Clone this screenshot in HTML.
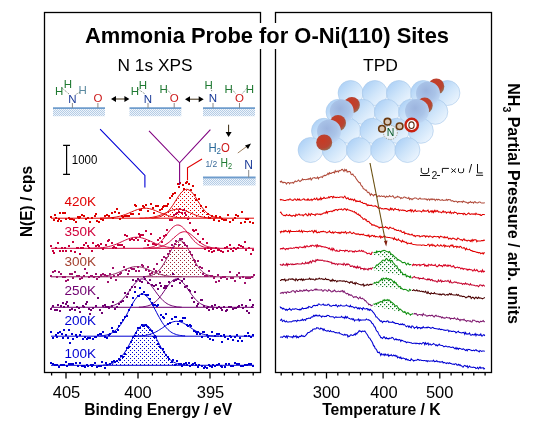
<!DOCTYPE html>
<html><head><meta charset="utf-8"><style>
html,body{margin:0;padding:0;background:#fff;}
svg{display:block;will-change:transform;}
</style></head><body>
<svg width="540" height="432" viewBox="0 0 540 432">
<rect width="540" height="432" fill="#fff"/>
<rect x="44.5" y="12.5" width="216" height="360" fill="none" stroke="#000" stroke-width="1.3"/>
<rect x="275.5" y="12.5" width="216" height="360" fill="none" stroke="#000" stroke-width="1.3"/>
<line x1="51.6" y1="372" x2="51.6" y2="375.5" stroke="#000" stroke-width="1.3"/>
<line x1="66.0" y1="372" x2="66.0" y2="378.5" stroke="#000" stroke-width="1.3"/>
<line x1="80.4" y1="372" x2="80.4" y2="375.5" stroke="#000" stroke-width="1.3"/>
<line x1="94.8" y1="372" x2="94.8" y2="375.5" stroke="#000" stroke-width="1.3"/>
<line x1="109.2" y1="372" x2="109.2" y2="375.5" stroke="#000" stroke-width="1.3"/>
<line x1="123.6" y1="372" x2="123.6" y2="375.5" stroke="#000" stroke-width="1.3"/>
<line x1="138.0" y1="372" x2="138.0" y2="378.5" stroke="#000" stroke-width="1.3"/>
<line x1="152.4" y1="372" x2="152.4" y2="375.5" stroke="#000" stroke-width="1.3"/>
<line x1="166.8" y1="372" x2="166.8" y2="375.5" stroke="#000" stroke-width="1.3"/>
<line x1="181.2" y1="372" x2="181.2" y2="375.5" stroke="#000" stroke-width="1.3"/>
<line x1="195.6" y1="372" x2="195.6" y2="375.5" stroke="#000" stroke-width="1.3"/>
<line x1="210.0" y1="372" x2="210.0" y2="378.5" stroke="#000" stroke-width="1.3"/>
<line x1="224.4" y1="372" x2="224.4" y2="375.5" stroke="#000" stroke-width="1.3"/>
<line x1="238.8" y1="372" x2="238.8" y2="375.5" stroke="#000" stroke-width="1.3"/>
<line x1="253.2" y1="372" x2="253.2" y2="375.5" stroke="#000" stroke-width="1.3"/>
<line x1="281.2" y1="372" x2="281.2" y2="375.5" stroke="#000" stroke-width="1.3"/>
<line x1="292.5" y1="372" x2="292.5" y2="375.5" stroke="#000" stroke-width="1.3"/>
<line x1="303.8" y1="372" x2="303.8" y2="375.5" stroke="#000" stroke-width="1.3"/>
<line x1="315.2" y1="372" x2="315.2" y2="375.5" stroke="#000" stroke-width="1.3"/>
<line x1="326.5" y1="372" x2="326.5" y2="378.5" stroke="#000" stroke-width="1.3"/>
<line x1="337.8" y1="372" x2="337.8" y2="375.5" stroke="#000" stroke-width="1.3"/>
<line x1="349.2" y1="372" x2="349.2" y2="375.5" stroke="#000" stroke-width="1.3"/>
<line x1="360.5" y1="372" x2="360.5" y2="375.5" stroke="#000" stroke-width="1.3"/>
<line x1="371.8" y1="372" x2="371.8" y2="375.5" stroke="#000" stroke-width="1.3"/>
<line x1="383.1" y1="372" x2="383.1" y2="378.5" stroke="#000" stroke-width="1.3"/>
<line x1="394.5" y1="372" x2="394.5" y2="375.5" stroke="#000" stroke-width="1.3"/>
<line x1="405.8" y1="372" x2="405.8" y2="375.5" stroke="#000" stroke-width="1.3"/>
<line x1="417.1" y1="372" x2="417.1" y2="375.5" stroke="#000" stroke-width="1.3"/>
<line x1="428.5" y1="372" x2="428.5" y2="375.5" stroke="#000" stroke-width="1.3"/>
<line x1="439.8" y1="372" x2="439.8" y2="378.5" stroke="#000" stroke-width="1.3"/>
<line x1="451.1" y1="372" x2="451.1" y2="375.5" stroke="#000" stroke-width="1.3"/>
<line x1="462.5" y1="372" x2="462.5" y2="375.5" stroke="#000" stroke-width="1.3"/>
<line x1="473.8" y1="372" x2="473.8" y2="375.5" stroke="#000" stroke-width="1.3"/>
<line x1="485.1" y1="372" x2="485.1" y2="375.5" stroke="#000" stroke-width="1.3"/>
<text x="66.5" y="397.5" font-family="Liberation Sans, sans-serif" font-size="16.5" text-anchor="middle" fill="#000">405</text>
<text x="138" y="397.5" font-family="Liberation Sans, sans-serif" font-size="16.5" text-anchor="middle" fill="#000">400</text>
<text x="210.5" y="397.5" font-family="Liberation Sans, sans-serif" font-size="16.5" text-anchor="middle" fill="#000">395</text>
<text x="326.5" y="397.5" font-family="Liberation Sans, sans-serif" font-size="16.5" text-anchor="middle" fill="#000">300</text>
<text x="383.9" y="397.5" font-family="Liberation Sans, sans-serif" font-size="16.5" text-anchor="middle" fill="#000">400</text>
<text x="439.7" y="397.5" font-family="Liberation Sans, sans-serif" font-size="16.5" text-anchor="middle" fill="#000">500</text>
<text x="84.2" y="414.6" font-family="Liberation Sans, sans-serif" font-size="15.6" font-weight="bold" textLength="148" lengthAdjust="spacingAndGlyphs">Binding Energy / eV</text>
<text x="322.2" y="415" font-family="Liberation Sans, sans-serif" font-size="15.6" font-weight="bold" textLength="118.5" lengthAdjust="spacingAndGlyphs">Temperature / K</text>
<text transform="translate(31.5,237) rotate(-90)" font-family="Liberation Sans, sans-serif" font-size="15.8" font-weight="bold" textLength="71" lengthAdjust="spacingAndGlyphs">N(E) / cps</text>
<text transform="translate(508,83.3) rotate(90)" font-family="Liberation Sans, sans-serif" font-size="16" font-weight="bold">NH<tspan font-size="10.5" dy="5">3</tspan><tspan dy="-5"> Partial Pressure / arb. units</tspan></text>
<rect x="60" y="23" width="420" height="26" fill="#fff"/>
<text x="85" y="42.6" font-family="Liberation Sans, sans-serif" font-size="22" font-weight="bold" textLength="364" lengthAdjust="spacingAndGlyphs">Ammonia Probe for O-Ni(110) Sites</text>
<text x="117.5" y="70.5" font-family="Liberation Sans, sans-serif" font-size="17" textLength="75" lengthAdjust="spacingAndGlyphs">N 1s XPS</text>
<text x="363" y="70.9" font-family="Liberation Sans, sans-serif" font-size="17" textLength="35" lengthAdjust="spacingAndGlyphs">TPD</text>
<pattern id="p0" width="4" height="4" patternUnits="userSpaceOnUse"><rect x="0" y="0" width="1" height="1" fill="#e10000"/><rect x="2" y="2" width="1" height="1" fill="#e10000"/></pattern>
<pattern id="p1" width="4" height="4" patternUnits="userSpaceOnUse"><rect x="0" y="0" width="1" height="1" fill="#d0003a"/><rect x="2" y="2" width="1" height="1" fill="#d0003a"/></pattern>
<pattern id="p2" width="4" height="4" patternUnits="userSpaceOnUse"><rect x="0" y="0" width="1" height="1" fill="#a02838"/><rect x="2" y="2" width="1" height="1" fill="#a02838"/></pattern>
<pattern id="p3" width="4" height="4" patternUnits="userSpaceOnUse"><rect x="0" y="0" width="1" height="1" fill="#700070"/><rect x="2" y="2" width="1" height="1" fill="#700070"/></pattern>
<pattern id="p4" width="4" height="4" patternUnits="userSpaceOnUse"><rect x="0" y="0" width="1" height="1" fill="#0000d2"/><rect x="2" y="2" width="1" height="1" fill="#0000d2"/></pattern>
<pattern id="p5" width="4" height="4" patternUnits="userSpaceOnUse"><rect x="0" y="0" width="1" height="1" fill="#0000d2"/><rect x="2" y="2" width="1" height="1" fill="#0000d2"/></pattern>
<text x="64.5" y="206" font-family="Liberation Sans, sans-serif" font-size="13.5" fill="#e10000" textLength="31.5" lengthAdjust="spacingAndGlyphs">420K</text>
<path d="M151.5,218.0 L152.7,218.0 L153.8,217.9 L155.0,217.7 L156.2,217.6 L157.4,217.4 L158.5,217.1 L159.7,216.8 L160.9,216.4 L162.1,215.8 L163.2,215.2 L164.4,214.5 L165.6,213.6 L166.8,212.6 L167.9,211.5 L169.1,210.2 L170.3,208.7 L171.4,207.2 L172.6,205.5 L173.8,203.7 L175.0,201.8 L176.1,200.0 L177.3,198.1 L178.5,196.3 L179.7,194.7 L180.8,193.1 L182.0,191.8 L183.2,190.7 L184.4,190.0 L185.5,189.5 L186.7,189.3 L187.9,189.5 L189.0,190.0 L190.2,190.7 L191.4,191.8 L192.6,193.1 L193.7,194.7 L194.9,196.3 L196.1,198.1 L197.3,200.0 L198.4,201.8 L199.6,203.7 L200.8,205.5 L202.0,207.2 L203.1,208.7 L204.3,210.2 L205.5,211.5 L206.6,212.6 L207.8,213.6 L209.0,214.5 L210.2,215.2 L211.3,215.8 L212.5,216.4 L213.7,216.8 L214.9,217.1 L216.0,217.4 L217.2,217.6 L218.4,217.7 L219.6,217.9 L220.7,218.0 L221.9,218.0 Z" fill="url(#p0)" stroke="none"/>
<path d="M151.5,218.0 L152.7,218.0 L153.8,217.9 L155.0,217.7 L156.2,217.6 L157.4,217.4 L158.5,217.1 L159.7,216.8 L160.9,216.4 L162.1,215.8 L163.2,215.2 L164.4,214.5 L165.6,213.6 L166.8,212.6 L167.9,211.5 L169.1,210.2 L170.3,208.7 L171.4,207.2 L172.6,205.5 L173.8,203.7 L175.0,201.8 L176.1,200.0 L177.3,198.1 L178.5,196.3 L179.7,194.7 L180.8,193.1 L182.0,191.8 L183.2,190.7 L184.4,190.0 L185.5,189.5 L186.7,189.3 L187.9,189.5 L189.0,190.0 L190.2,190.7 L191.4,191.8 L192.6,193.1 L193.7,194.7 L194.9,196.3 L196.1,198.1 L197.3,200.0 L198.4,201.8 L199.6,203.7 L200.8,205.5 L202.0,207.2 L203.1,208.7 L204.3,210.2 L205.5,211.5 L206.6,212.6 L207.8,213.6 L209.0,214.5 L210.2,215.2 L211.3,215.8 L212.5,216.4 L213.7,216.8 L214.9,217.1 L216.0,217.4 L217.2,217.6 L218.4,217.7 L219.6,217.9 L220.7,218.0 L221.9,218.0" fill="none" stroke="#e10000" stroke-width="1"/>
<path d="M100.2,218.1 L101.7,218.1 L103.2,218.1 L104.7,218.0 L106.2,218.0 L107.7,217.9 L109.2,217.8 L110.7,217.7 L112.1,217.6 L113.6,217.4 L115.1,217.2 L116.6,216.9 L118.1,216.6 L119.6,216.3 L121.1,215.9 L122.6,215.4 L124.1,214.9 L125.6,214.4 L127.1,213.8 L128.6,213.2 L130.1,212.5 L131.6,211.9 L133.1,211.3 L134.5,210.6 L136.0,210.1 L137.5,209.5 L139.0,209.1 L140.5,208.7 L142.0,208.4 L143.5,208.3 L145.0,208.2 L146.5,208.3 L148.0,208.4 L149.5,208.7 L151.0,209.1 L152.5,209.5 L154.0,210.1 L155.5,210.6 L156.9,211.3 L158.4,211.9 L159.9,212.5 L161.4,213.2 L162.9,213.8 L164.4,214.4 L165.9,214.9 L167.4,215.4 L168.9,215.9 L170.4,216.3 L171.9,216.6 L173.4,216.9 L174.9,217.2 L176.4,217.4 L177.9,217.6 L179.3,217.7 L180.8,217.8 L182.3,217.9 L183.8,218.0 L185.3,218.0 L186.8,218.1 L188.3,218.1 L189.8,218.1" fill="none" stroke="#e10000" stroke-width="1"/>
<path d="M139.6,218.1 L140.9,218.1 L142.2,218.1 L143.4,218.1 L144.7,218.0 L146.0,217.9 L147.3,217.9 L148.6,217.8 L149.8,217.6 L151.1,217.5 L152.4,217.3 L153.7,217.0 L155.0,216.8 L156.2,216.5 L157.5,216.1 L158.8,215.7 L160.1,215.2 L161.4,214.8 L162.6,214.2 L163.9,213.7 L165.2,213.1 L166.5,212.5 L167.8,211.9 L169.0,211.4 L170.3,210.9 L171.6,210.4 L172.9,210.0 L174.2,209.6 L175.4,209.4 L176.7,209.3 L178.0,209.2 L179.3,209.3 L180.6,209.4 L181.8,209.6 L183.1,210.0 L184.4,210.4 L185.7,210.9 L187.0,211.4 L188.2,211.9 L189.5,212.5 L190.8,213.1 L192.1,213.7 L193.4,214.2 L194.6,214.8 L195.9,215.2 L197.2,215.7 L198.5,216.1 L199.8,216.5 L201.0,216.8 L202.3,217.0 L203.6,217.3 L204.9,217.5 L206.2,217.6 L207.4,217.8 L208.7,217.9 L210.0,217.9 L211.3,218.0 L212.6,218.1 L213.8,218.1 L215.1,218.1 L216.4,218.1" fill="none" stroke="#e10000" stroke-width="1"/>
<line x1="51" y1="218.2" x2="254" y2="218.2" stroke="#e10000" stroke-width="1"/>
<rect x="50" y="216" width="2" height="2" fill="#dc0000"/>
<rect x="53" y="219" width="2" height="2" fill="#dc0000"/>
<rect x="54" y="214" width="2" height="2" fill="#dc0000"/>
<rect x="55" y="217" width="2" height="2" fill="#dc0000"/>
<rect x="57" y="220" width="2" height="2" fill="#dc0000"/>
<rect x="58" y="218" width="2" height="2" fill="#dc0000"/>
<rect x="59" y="212" width="2" height="2" fill="#dc0000"/>
<rect x="60" y="220" width="2" height="2" fill="#dc0000"/>
<rect x="62" y="212" width="2" height="2" fill="#dc0000"/>
<rect x="64" y="212" width="2" height="2" fill="#dc0000"/>
<rect x="65" y="218" width="2" height="2" fill="#dc0000"/>
<rect x="68" y="217" width="2" height="2" fill="#dc0000"/>
<rect x="69" y="218" width="2" height="2" fill="#dc0000"/>
<rect x="71" y="218" width="2" height="2" fill="#dc0000"/>
<rect x="73" y="219" width="2" height="2" fill="#dc0000"/>
<rect x="75" y="221" width="2" height="2" fill="#dc0000"/>
<rect x="77" y="216" width="2" height="2" fill="#dc0000"/>
<rect x="78" y="217" width="2" height="2" fill="#dc0000"/>
<rect x="79" y="216" width="2" height="2" fill="#dc0000"/>
<rect x="81" y="214" width="2" height="2" fill="#dc0000"/>
<rect x="83" y="215" width="2" height="2" fill="#dc0000"/>
<rect x="85" y="218" width="2" height="2" fill="#dc0000"/>
<rect x="87" y="217" width="2" height="2" fill="#dc0000"/>
<rect x="89" y="221" width="2" height="2" fill="#dc0000"/>
<rect x="91" y="217" width="2" height="2" fill="#dc0000"/>
<rect x="94" y="215" width="2" height="2" fill="#dc0000"/>
<rect x="95" y="213" width="2" height="2" fill="#dc0000"/>
<rect x="96" y="220" width="2" height="2" fill="#dc0000"/>
<rect x="98" y="221" width="2" height="2" fill="#dc0000"/>
<rect x="100" y="218" width="2" height="2" fill="#dc0000"/>
<rect x="102" y="219" width="2" height="2" fill="#dc0000"/>
<rect x="104" y="215" width="2" height="2" fill="#dc0000"/>
<rect x="106" y="214" width="2" height="2" fill="#dc0000"/>
<rect x="108" y="215" width="2" height="2" fill="#dc0000"/>
<rect x="111" y="212" width="2" height="2" fill="#dc0000"/>
<rect x="112" y="217" width="2" height="2" fill="#dc0000"/>
<rect x="114" y="211" width="2" height="2" fill="#dc0000"/>
<rect x="116" y="208" width="2" height="2" fill="#dc0000"/>
<rect x="118" y="212" width="2" height="2" fill="#dc0000"/>
<rect x="119" y="218" width="2" height="2" fill="#dc0000"/>
<rect x="121" y="215" width="2" height="2" fill="#dc0000"/>
<rect x="122" y="216" width="2" height="2" fill="#dc0000"/>
<rect x="124" y="215" width="2" height="2" fill="#dc0000"/>
<rect x="126" y="215" width="2" height="2" fill="#dc0000"/>
<rect x="128" y="215" width="2" height="2" fill="#dc0000"/>
<rect x="130" y="213" width="2" height="2" fill="#dc0000"/>
<rect x="132" y="213" width="2" height="2" fill="#dc0000"/>
<rect x="134" y="204" width="2" height="2" fill="#dc0000"/>
<rect x="135" y="205" width="2" height="2" fill="#dc0000"/>
<rect x="138" y="213" width="2" height="2" fill="#dc0000"/>
<rect x="139" y="209" width="2" height="2" fill="#dc0000"/>
<rect x="140" y="209" width="2" height="2" fill="#dc0000"/>
<rect x="142" y="205" width="2" height="2" fill="#dc0000"/>
<rect x="143" y="206" width="2" height="2" fill="#dc0000"/>
<rect x="145" y="204" width="2" height="2" fill="#dc0000"/>
<rect x="147" y="210" width="2" height="2" fill="#dc0000"/>
<rect x="150" y="203" width="2" height="2" fill="#dc0000"/>
<rect x="152" y="207" width="2" height="2" fill="#dc0000"/>
<rect x="153" y="212" width="2" height="2" fill="#dc0000"/>
<rect x="155" y="205" width="2" height="2" fill="#dc0000"/>
<rect x="157" y="205" width="2" height="2" fill="#dc0000"/>
<rect x="159" y="209" width="2" height="2" fill="#dc0000"/>
<rect x="161" y="208" width="2" height="2" fill="#dc0000"/>
<rect x="162" y="206" width="2" height="2" fill="#dc0000"/>
<rect x="163" y="205" width="2" height="2" fill="#dc0000"/>
<rect x="164" y="205" width="2" height="2" fill="#dc0000"/>
<rect x="166" y="205" width="2" height="2" fill="#dc0000"/>
<rect x="167" y="203" width="2" height="2" fill="#dc0000"/>
<rect x="169" y="197" width="2" height="2" fill="#dc0000"/>
<rect x="171" y="195" width="2" height="2" fill="#dc0000"/>
<rect x="172" y="193" width="2" height="2" fill="#dc0000"/>
<rect x="174" y="192" width="2" height="2" fill="#dc0000"/>
<rect x="177" y="183" width="2" height="2" fill="#dc0000"/>
<rect x="178" y="186" width="2" height="2" fill="#dc0000"/>
<rect x="179" y="182" width="2" height="2" fill="#dc0000"/>
<rect x="182" y="184" width="2" height="2" fill="#dc0000"/>
<rect x="183" y="188" width="2" height="2" fill="#dc0000"/>
<rect x="185" y="182" width="2" height="2" fill="#dc0000"/>
<rect x="186" y="181" width="2" height="2" fill="#dc0000"/>
<rect x="188" y="183" width="2" height="2" fill="#dc0000"/>
<rect x="190" y="189" width="2" height="2" fill="#dc0000"/>
<rect x="192" y="185" width="2" height="2" fill="#dc0000"/>
<rect x="194" y="194" width="2" height="2" fill="#dc0000"/>
<rect x="195" y="199" width="2" height="2" fill="#dc0000"/>
<rect x="198" y="198" width="2" height="2" fill="#dc0000"/>
<rect x="200" y="205" width="2" height="2" fill="#dc0000"/>
<rect x="202" y="210" width="2" height="2" fill="#dc0000"/>
<rect x="205" y="206" width="2" height="2" fill="#dc0000"/>
<rect x="207" y="213" width="2" height="2" fill="#dc0000"/>
<rect x="208" y="217" width="2" height="2" fill="#dc0000"/>
<rect x="209" y="217" width="2" height="2" fill="#dc0000"/>
<rect x="211" y="215" width="2" height="2" fill="#dc0000"/>
<rect x="213" y="219" width="2" height="2" fill="#dc0000"/>
<rect x="215" y="215" width="2" height="2" fill="#dc0000"/>
<rect x="218" y="220" width="2" height="2" fill="#dc0000"/>
<rect x="219" y="216" width="2" height="2" fill="#dc0000"/>
<rect x="221" y="218" width="2" height="2" fill="#dc0000"/>
<rect x="223" y="219" width="2" height="2" fill="#dc0000"/>
<rect x="225" y="219" width="2" height="2" fill="#dc0000"/>
<rect x="227" y="214" width="2" height="2" fill="#dc0000"/>
<rect x="229" y="221" width="2" height="2" fill="#dc0000"/>
<rect x="232" y="219" width="2" height="2" fill="#dc0000"/>
<rect x="234" y="217" width="2" height="2" fill="#dc0000"/>
<rect x="235" y="214" width="2" height="2" fill="#dc0000"/>
<rect x="237" y="215" width="2" height="2" fill="#dc0000"/>
<rect x="240" y="222" width="2" height="2" fill="#dc0000"/>
<rect x="241" y="211" width="2" height="2" fill="#dc0000"/>
<rect x="244" y="221" width="2" height="2" fill="#dc0000"/>
<rect x="245" y="218" width="2" height="2" fill="#dc0000"/>
<rect x="247" y="218" width="2" height="2" fill="#dc0000"/>
<rect x="249" y="221" width="2" height="2" fill="#dc0000"/>
<rect x="252" y="222" width="2" height="2" fill="#dc0000"/>
<text x="64.5" y="235.8" font-family="Liberation Sans, sans-serif" font-size="13.5" fill="#d0003a" textLength="31.5" lengthAdjust="spacingAndGlyphs">350K</text>
<path d="M90.0,248.2 L91.5,248.2 L93.1,248.2 L94.7,248.1 L96.2,248.1 L97.8,248.0 L99.3,247.9 L100.9,247.8 L102.4,247.6 L104.0,247.4 L105.6,247.2 L107.1,246.9 L108.7,246.5 L110.2,246.2 L111.8,245.7 L113.3,245.2 L114.9,244.7 L116.5,244.1 L118.0,243.4 L119.6,242.7 L121.1,242.0 L122.7,241.3 L124.2,240.6 L125.8,239.9 L127.4,239.3 L128.9,238.7 L130.5,238.2 L132.0,237.8 L133.6,237.4 L135.1,237.3 L136.7,237.2 L138.3,237.3 L139.8,237.4 L141.4,237.8 L142.9,238.2 L144.5,238.7 L146.0,239.3 L147.6,239.9 L149.2,240.6 L150.7,241.3 L152.3,242.0 L153.8,242.7 L155.4,243.4 L156.9,244.1 L158.5,244.7 L160.1,245.2 L161.6,245.7 L163.2,246.2 L164.7,246.5 L166.3,246.9 L167.8,247.2 L169.4,247.4 L171.0,247.6 L172.5,247.8 L174.1,247.9 L175.6,248.0 L177.2,248.1 L178.7,248.1 L180.3,248.2 L181.9,248.2 L183.4,248.2" fill="none" stroke="#d0003a" stroke-width="1"/>
<path d="M143.2,248.2 L144.4,248.1 L145.5,248.0 L146.7,247.9 L147.8,247.8 L149.0,247.6 L150.2,247.4 L151.3,247.2 L152.5,246.8 L153.6,246.4 L154.8,245.9 L155.9,245.3 L157.1,244.6 L158.2,243.8 L159.4,242.9 L160.5,241.8 L161.7,240.7 L162.8,239.4 L164.0,238.0 L165.1,236.6 L166.3,235.1 L167.4,233.6 L168.6,232.1 L169.7,230.7 L170.9,229.3 L172.0,228.1 L173.2,227.0 L174.3,226.2 L175.5,225.5 L176.6,225.1 L177.8,225.0 L179.0,225.1 L180.1,225.5 L181.3,226.2 L182.4,227.0 L183.6,228.1 L184.7,229.3 L185.9,230.7 L187.0,232.1 L188.2,233.6 L189.3,235.1 L190.5,236.6 L191.6,238.0 L192.8,239.4 L193.9,240.7 L195.1,241.8 L196.2,242.9 L197.4,243.8 L198.5,244.6 L199.7,245.3 L200.8,245.9 L202.0,246.4 L203.1,246.8 L204.3,247.2 L205.4,247.4 L206.6,247.6 L207.8,247.8 L208.9,247.9 L210.1,248.0 L211.2,248.1 L212.4,248.2" fill="none" stroke="#d0003a" stroke-width="1"/>
<path d="M149.5,248.2 L150.7,248.2 L151.8,248.1 L153.0,248.0 L154.2,247.9 L155.3,247.8 L156.5,247.7 L157.7,247.5 L158.8,247.2 L160.0,246.9 L161.1,246.6 L162.3,246.2 L163.5,245.7 L164.6,245.1 L165.8,244.4 L167.0,243.7 L168.1,242.9 L169.3,242.0 L170.4,241.0 L171.6,240.0 L172.8,238.9 L173.9,237.8 L175.1,236.8 L176.3,235.7 L177.4,234.8 L178.6,233.9 L179.7,233.1 L180.9,232.5 L182.1,232.1 L183.2,231.8 L184.4,231.7 L185.6,231.8 L186.7,232.1 L187.9,232.5 L189.1,233.1 L190.2,233.9 L191.4,234.8 L192.5,235.7 L193.7,236.8 L194.9,237.8 L196.0,238.9 L197.2,240.0 L198.4,241.0 L199.5,242.0 L200.7,242.9 L201.8,243.7 L203.0,244.4 L204.2,245.1 L205.3,245.7 L206.5,246.2 L207.7,246.6 L208.8,246.9 L210.0,247.2 L211.1,247.5 L212.3,247.7 L213.5,247.8 L214.6,247.9 L215.8,248.0 L217.0,248.1 L218.1,248.2 L219.3,248.2" fill="none" stroke="#d0003a" stroke-width="1"/>
<line x1="51" y1="248.3" x2="254" y2="248.3" stroke="#d0003a" stroke-width="1"/>
<rect x="50" y="245" width="2" height="2" fill="#c8003c"/>
<rect x="52" y="250" width="2" height="2" fill="#c8003c"/>
<rect x="53" y="252" width="2" height="2" fill="#c8003c"/>
<rect x="55" y="247" width="2" height="2" fill="#c8003c"/>
<rect x="57" y="242" width="2" height="2" fill="#c8003c"/>
<rect x="59" y="250" width="2" height="2" fill="#c8003c"/>
<rect x="61" y="247" width="2" height="2" fill="#c8003c"/>
<rect x="62" y="250" width="2" height="2" fill="#c8003c"/>
<rect x="64" y="247" width="2" height="2" fill="#c8003c"/>
<rect x="65" y="250" width="2" height="2" fill="#c8003c"/>
<rect x="68" y="245" width="2" height="2" fill="#c8003c"/>
<rect x="70" y="250" width="2" height="2" fill="#c8003c"/>
<rect x="72" y="241" width="2" height="2" fill="#c8003c"/>
<rect x="74" y="251" width="2" height="2" fill="#c8003c"/>
<rect x="76" y="247" width="2" height="2" fill="#c8003c"/>
<rect x="77" y="247" width="2" height="2" fill="#c8003c"/>
<rect x="79" y="253" width="2" height="2" fill="#c8003c"/>
<rect x="80" y="247" width="2" height="2" fill="#c8003c"/>
<rect x="82" y="247" width="2" height="2" fill="#c8003c"/>
<rect x="83" y="244" width="2" height="2" fill="#c8003c"/>
<rect x="85" y="242" width="2" height="2" fill="#c8003c"/>
<rect x="87" y="245" width="2" height="2" fill="#c8003c"/>
<rect x="88" y="247" width="2" height="2" fill="#c8003c"/>
<rect x="91" y="250" width="2" height="2" fill="#c8003c"/>
<rect x="92" y="242" width="2" height="2" fill="#c8003c"/>
<rect x="95" y="245" width="2" height="2" fill="#c8003c"/>
<rect x="97" y="244" width="2" height="2" fill="#c8003c"/>
<rect x="98" y="245" width="2" height="2" fill="#c8003c"/>
<rect x="100" y="243" width="2" height="2" fill="#c8003c"/>
<rect x="102" y="248" width="2" height="2" fill="#c8003c"/>
<rect x="105" y="244" width="2" height="2" fill="#c8003c"/>
<rect x="107" y="240" width="2" height="2" fill="#c8003c"/>
<rect x="108" y="239" width="2" height="2" fill="#c8003c"/>
<rect x="111" y="242" width="2" height="2" fill="#c8003c"/>
<rect x="112" y="247" width="2" height="2" fill="#c8003c"/>
<rect x="113" y="246" width="2" height="2" fill="#c8003c"/>
<rect x="115" y="247" width="2" height="2" fill="#c8003c"/>
<rect x="117" y="244" width="2" height="2" fill="#c8003c"/>
<rect x="119" y="244" width="2" height="2" fill="#c8003c"/>
<rect x="121" y="244" width="2" height="2" fill="#c8003c"/>
<rect x="123" y="246" width="2" height="2" fill="#c8003c"/>
<rect x="124" y="234" width="2" height="2" fill="#c8003c"/>
<rect x="126" y="235" width="2" height="2" fill="#c8003c"/>
<rect x="129" y="239" width="2" height="2" fill="#c8003c"/>
<rect x="131" y="238" width="2" height="2" fill="#c8003c"/>
<rect x="133" y="239" width="2" height="2" fill="#c8003c"/>
<rect x="135" y="237" width="2" height="2" fill="#c8003c"/>
<rect x="137" y="239" width="2" height="2" fill="#c8003c"/>
<rect x="138" y="233" width="2" height="2" fill="#c8003c"/>
<rect x="139" y="235" width="2" height="2" fill="#c8003c"/>
<rect x="140" y="234" width="2" height="2" fill="#c8003c"/>
<rect x="142" y="234" width="2" height="2" fill="#c8003c"/>
<rect x="144" y="240" width="2" height="2" fill="#c8003c"/>
<rect x="145" y="230" width="2" height="2" fill="#c8003c"/>
<rect x="147" y="244" width="2" height="2" fill="#c8003c"/>
<rect x="148" y="240" width="2" height="2" fill="#c8003c"/>
<rect x="150" y="233" width="2" height="2" fill="#c8003c"/>
<rect x="152" y="243" width="2" height="2" fill="#c8003c"/>
<rect x="153" y="243" width="2" height="2" fill="#c8003c"/>
<rect x="155" y="244" width="2" height="2" fill="#c8003c"/>
<rect x="157" y="239" width="2" height="2" fill="#c8003c"/>
<rect x="159" y="237" width="2" height="2" fill="#c8003c"/>
<rect x="161" y="241" width="2" height="2" fill="#c8003c"/>
<rect x="163" y="235" width="2" height="2" fill="#c8003c"/>
<rect x="165" y="234" width="2" height="2" fill="#c8003c"/>
<rect x="166" y="229" width="2" height="2" fill="#c8003c"/>
<rect x="169" y="219" width="2" height="2" fill="#c8003c"/>
<rect x="171" y="219" width="2" height="2" fill="#c8003c"/>
<rect x="173" y="214" width="2" height="2" fill="#c8003c"/>
<rect x="175" y="213" width="2" height="2" fill="#c8003c"/>
<rect x="176" y="212" width="2" height="2" fill="#c8003c"/>
<rect x="178" y="211" width="2" height="2" fill="#c8003c"/>
<rect x="179" y="208" width="2" height="2" fill="#c8003c"/>
<rect x="181" y="212" width="2" height="2" fill="#c8003c"/>
<rect x="183" y="209" width="2" height="2" fill="#c8003c"/>
<rect x="184" y="212" width="2" height="2" fill="#c8003c"/>
<rect x="185" y="214" width="2" height="2" fill="#c8003c"/>
<rect x="187" y="218" width="2" height="2" fill="#c8003c"/>
<rect x="189" y="222" width="2" height="2" fill="#c8003c"/>
<rect x="192" y="229" width="2" height="2" fill="#c8003c"/>
<rect x="193" y="230" width="2" height="2" fill="#c8003c"/>
<rect x="195" y="229" width="2" height="2" fill="#c8003c"/>
<rect x="197" y="233" width="2" height="2" fill="#c8003c"/>
<rect x="199" y="241" width="2" height="2" fill="#c8003c"/>
<rect x="202" y="238" width="2" height="2" fill="#c8003c"/>
<rect x="204" y="248" width="2" height="2" fill="#c8003c"/>
<rect x="206" y="242" width="2" height="2" fill="#c8003c"/>
<rect x="207" y="247" width="2" height="2" fill="#c8003c"/>
<rect x="208" y="250" width="2" height="2" fill="#c8003c"/>
<rect x="210" y="248" width="2" height="2" fill="#c8003c"/>
<rect x="211" y="251" width="2" height="2" fill="#c8003c"/>
<rect x="213" y="250" width="2" height="2" fill="#c8003c"/>
<rect x="215" y="247" width="2" height="2" fill="#c8003c"/>
<rect x="217" y="249" width="2" height="2" fill="#c8003c"/>
<rect x="218" y="249" width="2" height="2" fill="#c8003c"/>
<rect x="220" y="250" width="2" height="2" fill="#c8003c"/>
<rect x="222" y="251" width="2" height="2" fill="#c8003c"/>
<rect x="224" y="247" width="2" height="2" fill="#c8003c"/>
<rect x="226" y="246" width="2" height="2" fill="#c8003c"/>
<rect x="227" y="250" width="2" height="2" fill="#c8003c"/>
<rect x="229" y="244" width="2" height="2" fill="#c8003c"/>
<rect x="230" y="248" width="2" height="2" fill="#c8003c"/>
<rect x="232" y="250" width="2" height="2" fill="#c8003c"/>
<rect x="233" y="247" width="2" height="2" fill="#c8003c"/>
<rect x="235" y="248" width="2" height="2" fill="#c8003c"/>
<rect x="237" y="247" width="2" height="2" fill="#c8003c"/>
<rect x="238" y="244" width="2" height="2" fill="#c8003c"/>
<rect x="240" y="245" width="2" height="2" fill="#c8003c"/>
<rect x="242" y="246" width="2" height="2" fill="#c8003c"/>
<rect x="244" y="241" width="2" height="2" fill="#c8003c"/>
<rect x="245" y="249" width="2" height="2" fill="#c8003c"/>
<rect x="248" y="247" width="2" height="2" fill="#c8003c"/>
<rect x="250" y="253" width="2" height="2" fill="#c8003c"/>
<rect x="252" y="249" width="2" height="2" fill="#c8003c"/>
<text x="64.5" y="265.6" font-family="Liberation Sans, sans-serif" font-size="13.5" fill="#a44030" textLength="31.5" lengthAdjust="spacingAndGlyphs">300K</text>
<path d="M91.9,276.7 L93.4,276.7 L94.9,276.7 L96.4,276.6 L97.9,276.6 L99.4,276.5 L100.9,276.4 L102.4,276.3 L103.8,276.2 L105.3,276.0 L106.8,275.8 L108.3,275.5 L109.8,275.2 L111.3,274.8 L112.8,274.4 L114.3,274.0 L115.8,273.5 L117.3,272.9 L118.8,272.3 L120.3,271.7 L121.8,271.0 L123.3,270.4 L124.8,269.7 L126.2,269.1 L127.7,268.5 L129.2,268.0 L130.7,267.5 L132.2,267.1 L133.7,266.8 L135.2,266.7 L136.7,266.6 L138.2,266.7 L139.7,266.8 L141.2,267.1 L142.7,267.5 L144.2,268.0 L145.7,268.5 L147.2,269.1 L148.6,269.7 L150.1,270.4 L151.6,271.0 L153.1,271.7 L154.6,272.3 L156.1,272.9 L157.6,273.5 L159.1,274.0 L160.6,274.4 L162.1,274.8 L163.6,275.2 L165.1,275.5 L166.6,275.8 L168.1,276.0 L169.6,276.2 L171.0,276.3 L172.5,276.4 L174.0,276.5 L175.5,276.6 L177.0,276.6 L178.5,276.7 L180.0,276.7 L181.5,276.7" fill="none" stroke="#8a1a5a" stroke-width="1"/>
<path d="M143.8,276.6 L145.0,276.5 L146.3,276.4 L147.5,276.2 L148.7,276.0 L149.9,275.8 L151.1,275.4 L152.3,275.0 L153.5,274.5 L154.7,273.9 L155.9,273.1 L157.1,272.2 L158.3,271.1 L159.5,269.8 L160.7,268.4 L161.9,266.7 L163.1,264.9 L164.3,263.0 L165.5,260.8 L166.7,258.6 L167.9,256.3 L169.2,254.0 L170.4,251.6 L171.6,249.4 L172.8,247.3 L174.0,245.4 L175.2,243.7 L176.4,242.4 L177.6,241.4 L178.8,240.8 L180.0,240.6 L181.2,240.8 L182.4,241.4 L183.6,242.4 L184.8,243.7 L186.0,245.4 L187.2,247.3 L188.4,249.4 L189.6,251.6 L190.8,254.0 L192.1,256.3 L193.3,258.6 L194.5,260.8 L195.7,263.0 L196.9,264.9 L198.1,266.7 L199.3,268.4 L200.5,269.8 L201.7,271.1 L202.9,272.2 L204.1,273.1 L205.3,273.9 L206.5,274.5 L207.7,275.0 L208.9,275.4 L210.1,275.8 L211.3,276.0 L212.5,276.2 L213.7,276.4 L215.0,276.5 L216.2,276.6 Z" fill="url(#p2)" stroke="none"/>
<path d="M143.8,276.6 L145.0,276.5 L146.3,276.4 L147.5,276.2 L148.7,276.0 L149.9,275.8 L151.1,275.4 L152.3,275.0 L153.5,274.5 L154.7,273.9 L155.9,273.1 L157.1,272.2 L158.3,271.1 L159.5,269.8 L160.7,268.4 L161.9,266.7 L163.1,264.9 L164.3,263.0 L165.5,260.8 L166.7,258.6 L167.9,256.3 L169.2,254.0 L170.4,251.6 L171.6,249.4 L172.8,247.3 L174.0,245.4 L175.2,243.7 L176.4,242.4 L177.6,241.4 L178.8,240.8 L180.0,240.6 L181.2,240.8 L182.4,241.4 L183.6,242.4 L184.8,243.7 L186.0,245.4 L187.2,247.3 L188.4,249.4 L189.6,251.6 L190.8,254.0 L192.1,256.3 L193.3,258.6 L194.5,260.8 L195.7,263.0 L196.9,264.9 L198.1,266.7 L199.3,268.4 L200.5,269.8 L201.7,271.1 L202.9,272.2 L204.1,273.1 L205.3,273.9 L206.5,274.5 L207.7,275.0 L208.9,275.4 L210.1,275.8 L211.3,276.0 L212.5,276.2 L213.7,276.4 L215.0,276.5 L216.2,276.6" fill="none" stroke="#8a1a5a" stroke-width="1"/>
<line x1="51" y1="276.8" x2="254" y2="276.8" stroke="#8a1a5a" stroke-width="1"/>
<rect x="50" y="275" width="2" height="2" fill="#a0106a"/>
<rect x="52" y="271" width="2" height="2" fill="#a0106a"/>
<rect x="54" y="270" width="2" height="2" fill="#a0106a"/>
<rect x="56" y="276" width="2" height="2" fill="#a0106a"/>
<rect x="58" y="271" width="2" height="2" fill="#a0106a"/>
<rect x="60" y="273" width="2" height="2" fill="#a0106a"/>
<rect x="62" y="276" width="2" height="2" fill="#a0106a"/>
<rect x="64" y="276" width="2" height="2" fill="#a0106a"/>
<rect x="65" y="280" width="2" height="2" fill="#a0106a"/>
<rect x="67" y="279" width="2" height="2" fill="#a0106a"/>
<rect x="69" y="273" width="2" height="2" fill="#a0106a"/>
<rect x="71" y="273" width="2" height="2" fill="#a0106a"/>
<rect x="72" y="277" width="2" height="2" fill="#a0106a"/>
<rect x="74" y="271" width="2" height="2" fill="#a0106a"/>
<rect x="76" y="275" width="2" height="2" fill="#a0106a"/>
<rect x="78" y="275" width="2" height="2" fill="#a0106a"/>
<rect x="79" y="278" width="2" height="2" fill="#a0106a"/>
<rect x="81" y="277" width="2" height="2" fill="#a0106a"/>
<rect x="83" y="275" width="2" height="2" fill="#a0106a"/>
<rect x="84" y="268" width="2" height="2" fill="#a0106a"/>
<rect x="86" y="272" width="2" height="2" fill="#a0106a"/>
<rect x="88" y="276" width="2" height="2" fill="#a0106a"/>
<rect x="90" y="275" width="2" height="2" fill="#a0106a"/>
<rect x="91" y="275" width="2" height="2" fill="#a0106a"/>
<rect x="93" y="276" width="2" height="2" fill="#a0106a"/>
<rect x="95" y="273" width="2" height="2" fill="#a0106a"/>
<rect x="96" y="278" width="2" height="2" fill="#a0106a"/>
<rect x="98" y="276" width="2" height="2" fill="#a0106a"/>
<rect x="100" y="274" width="2" height="2" fill="#a0106a"/>
<rect x="102" y="273" width="2" height="2" fill="#a0106a"/>
<rect x="104" y="274" width="2" height="2" fill="#a0106a"/>
<rect x="106" y="275" width="2" height="2" fill="#a0106a"/>
<rect x="107" y="281" width="2" height="2" fill="#a0106a"/>
<rect x="109" y="273" width="2" height="2" fill="#a0106a"/>
<rect x="110" y="277" width="2" height="2" fill="#a0106a"/>
<rect x="112" y="267" width="2" height="2" fill="#a0106a"/>
<rect x="113" y="275" width="2" height="2" fill="#a0106a"/>
<rect x="115" y="279" width="2" height="2" fill="#a0106a"/>
<rect x="117" y="274" width="2" height="2" fill="#a0106a"/>
<rect x="119" y="273" width="2" height="2" fill="#a0106a"/>
<rect x="120" y="272" width="2" height="2" fill="#a0106a"/>
<rect x="123" y="266" width="2" height="2" fill="#a0106a"/>
<rect x="125" y="269" width="2" height="2" fill="#a0106a"/>
<rect x="127" y="273" width="2" height="2" fill="#a0106a"/>
<rect x="128" y="270" width="2" height="2" fill="#a0106a"/>
<rect x="130" y="267" width="2" height="2" fill="#a0106a"/>
<rect x="131" y="268" width="2" height="2" fill="#a0106a"/>
<rect x="133" y="268" width="2" height="2" fill="#a0106a"/>
<rect x="135" y="270" width="2" height="2" fill="#a0106a"/>
<rect x="137" y="266" width="2" height="2" fill="#a0106a"/>
<rect x="138" y="270" width="2" height="2" fill="#a0106a"/>
<rect x="141" y="264" width="2" height="2" fill="#a0106a"/>
<rect x="142" y="265" width="2" height="2" fill="#a0106a"/>
<rect x="145" y="269" width="2" height="2" fill="#a0106a"/>
<rect x="147" y="266" width="2" height="2" fill="#a0106a"/>
<rect x="148" y="270" width="2" height="2" fill="#a0106a"/>
<rect x="149" y="273" width="2" height="2" fill="#a0106a"/>
<rect x="151" y="272" width="2" height="2" fill="#a0106a"/>
<rect x="153" y="268" width="2" height="2" fill="#a0106a"/>
<rect x="155" y="270" width="2" height="2" fill="#a0106a"/>
<rect x="156" y="263" width="2" height="2" fill="#a0106a"/>
<rect x="159" y="271" width="2" height="2" fill="#a0106a"/>
<rect x="161" y="259" width="2" height="2" fill="#a0106a"/>
<rect x="163" y="256" width="2" height="2" fill="#a0106a"/>
<rect x="165" y="257" width="2" height="2" fill="#a0106a"/>
<rect x="167" y="253" width="2" height="2" fill="#a0106a"/>
<rect x="169" y="250" width="2" height="2" fill="#a0106a"/>
<rect x="171" y="244" width="2" height="2" fill="#a0106a"/>
<rect x="172" y="247" width="2" height="2" fill="#a0106a"/>
<rect x="174" y="243" width="2" height="2" fill="#a0106a"/>
<rect x="175" y="240" width="2" height="2" fill="#a0106a"/>
<rect x="178" y="244" width="2" height="2" fill="#a0106a"/>
<rect x="179" y="238" width="2" height="2" fill="#a0106a"/>
<rect x="181" y="238" width="2" height="2" fill="#a0106a"/>
<rect x="183" y="242" width="2" height="2" fill="#a0106a"/>
<rect x="184" y="244" width="2" height="2" fill="#a0106a"/>
<rect x="186" y="245" width="2" height="2" fill="#a0106a"/>
<rect x="189" y="251" width="2" height="2" fill="#a0106a"/>
<rect x="191" y="254" width="2" height="2" fill="#a0106a"/>
<rect x="193" y="259" width="2" height="2" fill="#a0106a"/>
<rect x="194" y="260" width="2" height="2" fill="#a0106a"/>
<rect x="195" y="264" width="2" height="2" fill="#a0106a"/>
<rect x="197" y="260" width="2" height="2" fill="#a0106a"/>
<rect x="199" y="266" width="2" height="2" fill="#a0106a"/>
<rect x="201" y="267" width="2" height="2" fill="#a0106a"/>
<rect x="202" y="273" width="2" height="2" fill="#a0106a"/>
<rect x="204" y="275" width="2" height="2" fill="#a0106a"/>
<rect x="206" y="275" width="2" height="2" fill="#a0106a"/>
<rect x="208" y="270" width="2" height="2" fill="#a0106a"/>
<rect x="210" y="275" width="2" height="2" fill="#a0106a"/>
<rect x="211" y="275" width="2" height="2" fill="#a0106a"/>
<rect x="213" y="277" width="2" height="2" fill="#a0106a"/>
<rect x="215" y="281" width="2" height="2" fill="#a0106a"/>
<rect x="217" y="274" width="2" height="2" fill="#a0106a"/>
<rect x="218" y="280" width="2" height="2" fill="#a0106a"/>
<rect x="220" y="277" width="2" height="2" fill="#a0106a"/>
<rect x="222" y="276" width="2" height="2" fill="#a0106a"/>
<rect x="224" y="276" width="2" height="2" fill="#a0106a"/>
<rect x="226" y="278" width="2" height="2" fill="#a0106a"/>
<rect x="229" y="271" width="2" height="2" fill="#a0106a"/>
<rect x="230" y="277" width="2" height="2" fill="#a0106a"/>
<rect x="232" y="277" width="2" height="2" fill="#a0106a"/>
<rect x="234" y="280" width="2" height="2" fill="#a0106a"/>
<rect x="236" y="274" width="2" height="2" fill="#a0106a"/>
<rect x="238" y="272" width="2" height="2" fill="#a0106a"/>
<rect x="239" y="277" width="2" height="2" fill="#a0106a"/>
<rect x="242" y="276" width="2" height="2" fill="#a0106a"/>
<rect x="244" y="282" width="2" height="2" fill="#a0106a"/>
<rect x="245" y="277" width="2" height="2" fill="#a0106a"/>
<rect x="247" y="277" width="2" height="2" fill="#a0106a"/>
<rect x="249" y="277" width="2" height="2" fill="#a0106a"/>
<rect x="251" y="276" width="2" height="2" fill="#a0106a"/>
<rect x="253" y="274" width="2" height="2" fill="#a0106a"/>
<text x="64.5" y="295.2" font-family="Liberation Sans, sans-serif" font-size="13.5" fill="#700070" textLength="31.5" lengthAdjust="spacingAndGlyphs">250K</text>
<path d="M102.8,307.1 L104.2,307.1 L105.5,307.0 L106.8,306.9 L108.1,306.7 L109.4,306.5 L110.7,306.2 L112.0,305.9 L113.3,305.5 L114.6,305.0 L116.0,304.4 L117.3,303.7 L118.6,302.8 L119.9,301.8 L121.2,300.7 L122.5,299.4 L123.8,298.0 L125.1,296.4 L126.5,294.8 L127.8,293.0 L129.1,291.2 L130.4,289.4 L131.7,287.6 L133.0,285.8 L134.3,284.2 L135.6,282.7 L137.0,281.4 L138.3,280.3 L139.6,279.5 L140.9,279.1 L142.2,278.9 L143.5,279.1 L144.8,279.5 L146.1,280.3 L147.4,281.4 L148.8,282.7 L150.1,284.2 L151.4,285.8 L152.7,287.6 L154.0,289.4 L155.3,291.2 L156.6,293.0 L157.9,294.8 L159.3,296.4 L160.6,298.0 L161.9,299.4 L163.2,300.7 L164.5,301.8 L165.8,302.8 L167.1,303.7 L168.4,304.4 L169.8,305.0 L171.1,305.5 L172.4,305.9 L173.7,306.2 L175.0,306.5 L176.3,306.7 L177.6,306.9 L178.9,307.0 L180.2,307.1 L181.6,307.1" fill="none" stroke="#700070" stroke-width="1"/>
<path d="M138.9,307.1 L140.2,307.1 L141.5,307.0 L142.7,306.9 L144.0,306.7 L145.2,306.5 L146.5,306.2 L147.8,305.9 L149.0,305.5 L150.3,305.0 L151.5,304.4 L152.8,303.7 L154.0,302.8 L155.3,301.8 L156.6,300.7 L157.8,299.4 L159.1,298.0 L160.3,296.4 L161.6,294.8 L162.9,293.0 L164.1,291.2 L165.4,289.4 L166.6,287.6 L167.9,285.8 L169.1,284.2 L170.4,282.7 L171.7,281.4 L172.9,280.3 L174.2,279.5 L175.4,279.1 L176.7,278.9 L178.0,279.1 L179.2,279.5 L180.5,280.3 L181.7,281.4 L183.0,282.7 L184.3,284.2 L185.5,285.8 L186.8,287.6 L188.0,289.4 L189.3,291.2 L190.5,293.0 L191.8,294.8 L193.1,296.4 L194.3,298.0 L195.6,299.4 L196.8,300.7 L198.1,301.8 L199.4,302.8 L200.6,303.7 L201.9,304.4 L203.1,305.0 L204.4,305.5 L205.6,305.9 L206.9,306.2 L208.2,306.5 L209.4,306.7 L210.7,306.9 L211.9,307.0 L213.2,307.1 L214.5,307.1" fill="none" stroke="#700070" stroke-width="1"/>
<line x1="51" y1="307.3" x2="254" y2="307.3" stroke="#700070" stroke-width="1"/>
<rect x="50" y="308" width="2" height="2" fill="#700070"/>
<rect x="52" y="305" width="2" height="2" fill="#700070"/>
<rect x="54" y="309" width="2" height="2" fill="#700070"/>
<rect x="56" y="309" width="2" height="2" fill="#700070"/>
<rect x="57" y="304" width="2" height="2" fill="#700070"/>
<rect x="59" y="310" width="2" height="2" fill="#700070"/>
<rect x="60" y="305" width="2" height="2" fill="#700070"/>
<rect x="62" y="302" width="2" height="2" fill="#700070"/>
<rect x="63" y="306" width="2" height="2" fill="#700070"/>
<rect x="65" y="303" width="2" height="2" fill="#700070"/>
<rect x="66" y="301" width="2" height="2" fill="#700070"/>
<rect x="67" y="305" width="2" height="2" fill="#700070"/>
<rect x="69" y="309" width="2" height="2" fill="#700070"/>
<rect x="71" y="308" width="2" height="2" fill="#700070"/>
<rect x="73" y="302" width="2" height="2" fill="#700070"/>
<rect x="74" y="309" width="2" height="2" fill="#700070"/>
<rect x="76" y="306" width="2" height="2" fill="#700070"/>
<rect x="78" y="307" width="2" height="2" fill="#700070"/>
<rect x="79" y="311" width="2" height="2" fill="#700070"/>
<rect x="82" y="305" width="2" height="2" fill="#700070"/>
<rect x="83" y="306" width="2" height="2" fill="#700070"/>
<rect x="85" y="303" width="2" height="2" fill="#700070"/>
<rect x="86" y="301" width="2" height="2" fill="#700070"/>
<rect x="88" y="308" width="2" height="2" fill="#700070"/>
<rect x="89" y="313" width="2" height="2" fill="#700070"/>
<rect x="90" y="309" width="2" height="2" fill="#700070"/>
<rect x="92" y="307" width="2" height="2" fill="#700070"/>
<rect x="95" y="305" width="2" height="2" fill="#700070"/>
<rect x="97" y="297" width="2" height="2" fill="#700070"/>
<rect x="99" y="309" width="2" height="2" fill="#700070"/>
<rect x="101" y="312" width="2" height="2" fill="#700070"/>
<rect x="102" y="305" width="2" height="2" fill="#700070"/>
<rect x="104" y="304" width="2" height="2" fill="#700070"/>
<rect x="105" y="306" width="2" height="2" fill="#700070"/>
<rect x="107" y="306" width="2" height="2" fill="#700070"/>
<rect x="108" y="307" width="2" height="2" fill="#700070"/>
<rect x="111" y="305" width="2" height="2" fill="#700070"/>
<rect x="112" y="301" width="2" height="2" fill="#700070"/>
<rect x="114" y="308" width="2" height="2" fill="#700070"/>
<rect x="116" y="306" width="2" height="2" fill="#700070"/>
<rect x="118" y="303" width="2" height="2" fill="#700070"/>
<rect x="120" y="301" width="2" height="2" fill="#700070"/>
<rect x="122" y="300" width="2" height="2" fill="#700070"/>
<rect x="124" y="292" width="2" height="2" fill="#700070"/>
<rect x="126" y="296" width="2" height="2" fill="#700070"/>
<rect x="127" y="293" width="2" height="2" fill="#700070"/>
<rect x="129" y="289" width="2" height="2" fill="#700070"/>
<rect x="131" y="286" width="2" height="2" fill="#700070"/>
<rect x="132" y="279" width="2" height="2" fill="#700070"/>
<rect x="134" y="286" width="2" height="2" fill="#700070"/>
<rect x="135" y="280" width="2" height="2" fill="#700070"/>
<rect x="137" y="278" width="2" height="2" fill="#700070"/>
<rect x="139" y="280" width="2" height="2" fill="#700070"/>
<rect x="141" y="281" width="2" height="2" fill="#700070"/>
<rect x="143" y="276" width="2" height="2" fill="#700070"/>
<rect x="144" y="278" width="2" height="2" fill="#700070"/>
<rect x="147" y="282" width="2" height="2" fill="#700070"/>
<rect x="149" y="279" width="2" height="2" fill="#700070"/>
<rect x="151" y="284" width="2" height="2" fill="#700070"/>
<rect x="153" y="285" width="2" height="2" fill="#700070"/>
<rect x="155" y="284" width="2" height="2" fill="#700070"/>
<rect x="157" y="288" width="2" height="2" fill="#700070"/>
<rect x="159" y="282" width="2" height="2" fill="#700070"/>
<rect x="160" y="285" width="2" height="2" fill="#700070"/>
<rect x="163" y="287" width="2" height="2" fill="#700070"/>
<rect x="164" y="285" width="2" height="2" fill="#700070"/>
<rect x="165" y="287" width="2" height="2" fill="#700070"/>
<rect x="166" y="285" width="2" height="2" fill="#700070"/>
<rect x="168" y="281" width="2" height="2" fill="#700070"/>
<rect x="171" y="285" width="2" height="2" fill="#700070"/>
<rect x="172" y="273" width="2" height="2" fill="#700070"/>
<rect x="173" y="280" width="2" height="2" fill="#700070"/>
<rect x="175" y="279" width="2" height="2" fill="#700070"/>
<rect x="177" y="278" width="2" height="2" fill="#700070"/>
<rect x="179" y="282" width="2" height="2" fill="#700070"/>
<rect x="181" y="280" width="2" height="2" fill="#700070"/>
<rect x="183" y="278" width="2" height="2" fill="#700070"/>
<rect x="184" y="286" width="2" height="2" fill="#700070"/>
<rect x="186" y="285" width="2" height="2" fill="#700070"/>
<rect x="188" y="289" width="2" height="2" fill="#700070"/>
<rect x="189" y="290" width="2" height="2" fill="#700070"/>
<rect x="191" y="297" width="2" height="2" fill="#700070"/>
<rect x="193" y="301" width="2" height="2" fill="#700070"/>
<rect x="194" y="291" width="2" height="2" fill="#700070"/>
<rect x="196" y="305" width="2" height="2" fill="#700070"/>
<rect x="197" y="303" width="2" height="2" fill="#700070"/>
<rect x="200" y="299" width="2" height="2" fill="#700070"/>
<rect x="201" y="299" width="2" height="2" fill="#700070"/>
<rect x="203" y="305" width="2" height="2" fill="#700070"/>
<rect x="206" y="307" width="2" height="2" fill="#700070"/>
<rect x="207" y="306" width="2" height="2" fill="#700070"/>
<rect x="208" y="309" width="2" height="2" fill="#700070"/>
<rect x="211" y="305" width="2" height="2" fill="#700070"/>
<rect x="212" y="308" width="2" height="2" fill="#700070"/>
<rect x="214" y="304" width="2" height="2" fill="#700070"/>
<rect x="216" y="307" width="2" height="2" fill="#700070"/>
<rect x="218" y="306" width="2" height="2" fill="#700070"/>
<rect x="220" y="307" width="2" height="2" fill="#700070"/>
<rect x="221" y="309" width="2" height="2" fill="#700070"/>
<rect x="223" y="306" width="2" height="2" fill="#700070"/>
<rect x="225" y="310" width="2" height="2" fill="#700070"/>
<rect x="226" y="309" width="2" height="2" fill="#700070"/>
<rect x="228" y="306" width="2" height="2" fill="#700070"/>
<rect x="230" y="306" width="2" height="2" fill="#700070"/>
<rect x="232" y="308" width="2" height="2" fill="#700070"/>
<rect x="234" y="307" width="2" height="2" fill="#700070"/>
<rect x="235" y="307" width="2" height="2" fill="#700070"/>
<rect x="237" y="306" width="2" height="2" fill="#700070"/>
<rect x="238" y="305" width="2" height="2" fill="#700070"/>
<rect x="241" y="304" width="2" height="2" fill="#700070"/>
<rect x="242" y="307" width="2" height="2" fill="#700070"/>
<rect x="245" y="305" width="2" height="2" fill="#700070"/>
<rect x="246" y="310" width="2" height="2" fill="#700070"/>
<rect x="248" y="312" width="2" height="2" fill="#700070"/>
<rect x="249" y="299" width="2" height="2" fill="#700070"/>
<rect x="251" y="306" width="2" height="2" fill="#700070"/>
<rect x="252" y="304" width="2" height="2" fill="#700070"/>
<text x="64.5" y="324.6" font-family="Liberation Sans, sans-serif" font-size="13.5" fill="#0000d2" textLength="31.5" lengthAdjust="spacingAndGlyphs">200K</text>
<path d="M99.3,335.9 L100.7,335.8 L102.2,335.7 L103.6,335.5 L105.0,335.3 L106.5,335.0 L107.9,334.6 L109.3,334.1 L110.8,333.5 L112.2,332.8 L113.6,331.9 L115.0,330.8 L116.5,329.5 L117.9,328.0 L119.3,326.4 L120.8,324.5 L122.2,322.4 L123.6,320.1 L125.0,317.6 L126.5,315.0 L127.9,312.3 L129.3,309.6 L130.8,306.9 L132.2,304.3 L133.6,301.8 L135.1,299.6 L136.5,297.7 L137.9,296.1 L139.3,294.9 L140.8,294.2 L142.2,294.0 L143.6,294.2 L145.1,294.9 L146.5,296.1 L147.9,297.7 L149.3,299.6 L150.8,301.8 L152.2,304.3 L153.6,306.9 L155.1,309.6 L156.5,312.3 L157.9,315.0 L159.4,317.6 L160.8,320.1 L162.2,322.4 L163.6,324.5 L165.1,326.4 L166.5,328.0 L167.9,329.5 L169.4,330.8 L170.8,331.9 L172.2,332.8 L173.6,333.5 L175.1,334.1 L176.5,334.6 L177.9,335.0 L179.4,335.3 L180.8,335.5 L182.2,335.7 L183.7,335.8 L185.1,335.9" fill="none" stroke="#0000d2" stroke-width="1"/>
<path d="M134.5,336.1 L135.9,336.1 L137.3,336.0 L138.7,336.0 L140.1,335.9 L141.5,335.8 L142.9,335.6 L144.3,335.5 L145.7,335.3 L147.1,335.0 L148.5,334.7 L149.9,334.3 L151.4,333.8 L152.8,333.3 L154.2,332.7 L155.6,332.1 L157.0,331.3 L158.4,330.5 L159.8,329.6 L161.2,328.7 L162.6,327.8 L164.0,326.8 L165.4,325.8 L166.8,324.9 L168.3,324.1 L169.7,323.3 L171.1,322.6 L172.5,322.0 L173.9,321.6 L175.3,321.4 L176.7,321.3 L178.1,321.4 L179.5,321.6 L180.9,322.0 L182.3,322.6 L183.7,323.3 L185.1,324.1 L186.6,324.9 L188.0,325.8 L189.4,326.8 L190.8,327.8 L192.2,328.7 L193.6,329.6 L195.0,330.5 L196.4,331.3 L197.8,332.1 L199.2,332.7 L200.6,333.3 L202.0,333.8 L203.5,334.3 L204.9,334.7 L206.3,335.0 L207.7,335.3 L209.1,335.5 L210.5,335.6 L211.9,335.8 L213.3,335.9 L214.7,336.0 L216.1,336.0 L217.5,336.1 L218.9,336.1" fill="none" stroke="#0000d2" stroke-width="1"/>
<line x1="51" y1="336.2" x2="254" y2="336.2" stroke="#0000d2" stroke-width="1"/>
<rect x="50" y="331" width="2" height="2" fill="#0000d2"/>
<rect x="52" y="337" width="2" height="2" fill="#0000d2"/>
<rect x="55" y="334" width="2" height="2" fill="#0000d2"/>
<rect x="56" y="336" width="2" height="2" fill="#0000d2"/>
<rect x="57" y="332" width="2" height="2" fill="#0000d2"/>
<rect x="59" y="331" width="2" height="2" fill="#0000d2"/>
<rect x="61" y="333" width="2" height="2" fill="#0000d2"/>
<rect x="62" y="337" width="2" height="2" fill="#0000d2"/>
<rect x="63" y="329" width="2" height="2" fill="#0000d2"/>
<rect x="65" y="334" width="2" height="2" fill="#0000d2"/>
<rect x="67" y="337" width="2" height="2" fill="#0000d2"/>
<rect x="68" y="329" width="2" height="2" fill="#0000d2"/>
<rect x="69" y="342" width="2" height="2" fill="#0000d2"/>
<rect x="71" y="333" width="2" height="2" fill="#0000d2"/>
<rect x="72" y="338" width="2" height="2" fill="#0000d2"/>
<rect x="75" y="334" width="2" height="2" fill="#0000d2"/>
<rect x="76" y="336" width="2" height="2" fill="#0000d2"/>
<rect x="79" y="334" width="2" height="2" fill="#0000d2"/>
<rect x="80" y="331" width="2" height="2" fill="#0000d2"/>
<rect x="82" y="338" width="2" height="2" fill="#0000d2"/>
<rect x="84" y="336" width="2" height="2" fill="#0000d2"/>
<rect x="86" y="338" width="2" height="2" fill="#0000d2"/>
<rect x="87" y="337" width="2" height="2" fill="#0000d2"/>
<rect x="89" y="337" width="2" height="2" fill="#0000d2"/>
<rect x="92" y="338" width="2" height="2" fill="#0000d2"/>
<rect x="94" y="336" width="2" height="2" fill="#0000d2"/>
<rect x="95" y="336" width="2" height="2" fill="#0000d2"/>
<rect x="97" y="334" width="2" height="2" fill="#0000d2"/>
<rect x="99" y="333" width="2" height="2" fill="#0000d2"/>
<rect x="100" y="333" width="2" height="2" fill="#0000d2"/>
<rect x="102" y="331" width="2" height="2" fill="#0000d2"/>
<rect x="104" y="336" width="2" height="2" fill="#0000d2"/>
<rect x="106" y="337" width="2" height="2" fill="#0000d2"/>
<rect x="108" y="334" width="2" height="2" fill="#0000d2"/>
<rect x="109" y="333" width="2" height="2" fill="#0000d2"/>
<rect x="111" y="327" width="2" height="2" fill="#0000d2"/>
<rect x="112" y="330" width="2" height="2" fill="#0000d2"/>
<rect x="113" y="331" width="2" height="2" fill="#0000d2"/>
<rect x="115" y="331" width="2" height="2" fill="#0000d2"/>
<rect x="117" y="329" width="2" height="2" fill="#0000d2"/>
<rect x="118" y="325" width="2" height="2" fill="#0000d2"/>
<rect x="120" y="322" width="2" height="2" fill="#0000d2"/>
<rect x="122" y="319" width="2" height="2" fill="#0000d2"/>
<rect x="124" y="316" width="2" height="2" fill="#0000d2"/>
<rect x="126" y="315" width="2" height="2" fill="#0000d2"/>
<rect x="128" y="309" width="2" height="2" fill="#0000d2"/>
<rect x="131" y="304" width="2" height="2" fill="#0000d2"/>
<rect x="132" y="297" width="2" height="2" fill="#0000d2"/>
<rect x="134" y="291" width="2" height="2" fill="#0000d2"/>
<rect x="137" y="295" width="2" height="2" fill="#0000d2"/>
<rect x="138" y="295" width="2" height="2" fill="#0000d2"/>
<rect x="139" y="287" width="2" height="2" fill="#0000d2"/>
<rect x="141" y="293" width="2" height="2" fill="#0000d2"/>
<rect x="143" y="291" width="2" height="2" fill="#0000d2"/>
<rect x="145" y="294" width="2" height="2" fill="#0000d2"/>
<rect x="147" y="294" width="2" height="2" fill="#0000d2"/>
<rect x="149" y="298" width="2" height="2" fill="#0000d2"/>
<rect x="151" y="302" width="2" height="2" fill="#0000d2"/>
<rect x="152" y="304" width="2" height="2" fill="#0000d2"/>
<rect x="154" y="304" width="2" height="2" fill="#0000d2"/>
<rect x="156" y="305" width="2" height="2" fill="#0000d2"/>
<rect x="157" y="304" width="2" height="2" fill="#0000d2"/>
<rect x="160" y="314" width="2" height="2" fill="#0000d2"/>
<rect x="162" y="316" width="2" height="2" fill="#0000d2"/>
<rect x="163" y="317" width="2" height="2" fill="#0000d2"/>
<rect x="165" y="313" width="2" height="2" fill="#0000d2"/>
<rect x="167" y="323" width="2" height="2" fill="#0000d2"/>
<rect x="169" y="322" width="2" height="2" fill="#0000d2"/>
<rect x="171" y="318" width="2" height="2" fill="#0000d2"/>
<rect x="174" y="316" width="2" height="2" fill="#0000d2"/>
<rect x="175" y="316" width="2" height="2" fill="#0000d2"/>
<rect x="177" y="323" width="2" height="2" fill="#0000d2"/>
<rect x="179" y="320" width="2" height="2" fill="#0000d2"/>
<rect x="181" y="320" width="2" height="2" fill="#0000d2"/>
<rect x="182" y="317" width="2" height="2" fill="#0000d2"/>
<rect x="184" y="317" width="2" height="2" fill="#0000d2"/>
<rect x="186" y="324" width="2" height="2" fill="#0000d2"/>
<rect x="187" y="325" width="2" height="2" fill="#0000d2"/>
<rect x="189" y="324" width="2" height="2" fill="#0000d2"/>
<rect x="190" y="325" width="2" height="2" fill="#0000d2"/>
<rect x="193" y="330" width="2" height="2" fill="#0000d2"/>
<rect x="195" y="331" width="2" height="2" fill="#0000d2"/>
<rect x="196" y="333" width="2" height="2" fill="#0000d2"/>
<rect x="197" y="331" width="2" height="2" fill="#0000d2"/>
<rect x="199" y="333" width="2" height="2" fill="#0000d2"/>
<rect x="201" y="336" width="2" height="2" fill="#0000d2"/>
<rect x="202" y="331" width="2" height="2" fill="#0000d2"/>
<rect x="203" y="331" width="2" height="2" fill="#0000d2"/>
<rect x="206" y="334" width="2" height="2" fill="#0000d2"/>
<rect x="207" y="336" width="2" height="2" fill="#0000d2"/>
<rect x="209" y="338" width="2" height="2" fill="#0000d2"/>
<rect x="211" y="331" width="2" height="2" fill="#0000d2"/>
<rect x="212" y="339" width="2" height="2" fill="#0000d2"/>
<rect x="214" y="335" width="2" height="2" fill="#0000d2"/>
<rect x="216" y="333" width="2" height="2" fill="#0000d2"/>
<rect x="218" y="333" width="2" height="2" fill="#0000d2"/>
<rect x="220" y="335" width="2" height="2" fill="#0000d2"/>
<rect x="221" y="341" width="2" height="2" fill="#0000d2"/>
<rect x="223" y="334" width="2" height="2" fill="#0000d2"/>
<rect x="224" y="336" width="2" height="2" fill="#0000d2"/>
<rect x="227" y="338" width="2" height="2" fill="#0000d2"/>
<rect x="229" y="335" width="2" height="2" fill="#0000d2"/>
<rect x="230" y="336" width="2" height="2" fill="#0000d2"/>
<rect x="232" y="339" width="2" height="2" fill="#0000d2"/>
<rect x="234" y="336" width="2" height="2" fill="#0000d2"/>
<rect x="236" y="334" width="2" height="2" fill="#0000d2"/>
<rect x="237" y="340" width="2" height="2" fill="#0000d2"/>
<rect x="239" y="337" width="2" height="2" fill="#0000d2"/>
<rect x="241" y="340" width="2" height="2" fill="#0000d2"/>
<rect x="244" y="335" width="2" height="2" fill="#0000d2"/>
<rect x="245" y="335" width="2" height="2" fill="#0000d2"/>
<rect x="247" y="332" width="2" height="2" fill="#0000d2"/>
<rect x="248" y="335" width="2" height="2" fill="#0000d2"/>
<rect x="250" y="336" width="2" height="2" fill="#0000d2"/>
<rect x="252" y="334" width="2" height="2" fill="#0000d2"/>
<text x="64.5" y="358.4" font-family="Liberation Sans, sans-serif" font-size="13.5" fill="#0000d2" textLength="31.5" lengthAdjust="spacingAndGlyphs">100K</text>
<path d="M102.8,365.1 L104.2,365.0 L105.6,364.8 L107.0,364.7 L108.3,364.4 L109.7,364.1 L111.1,363.8 L112.5,363.3 L113.9,362.7 L115.3,362.0 L116.7,361.1 L118.1,360.1 L119.4,358.9 L120.8,357.4 L122.2,355.8 L123.6,354.0 L125.0,352.0 L126.4,349.7 L127.8,347.4 L129.1,344.9 L130.5,342.3 L131.9,339.6 L133.3,337.0 L134.7,334.5 L136.1,332.1 L137.5,330.0 L138.9,328.1 L140.2,326.6 L141.6,325.5 L143.0,324.8 L144.4,324.6 L145.8,324.8 L147.2,325.5 L148.6,326.6 L149.9,328.1 L151.3,330.0 L152.7,332.1 L154.1,334.5 L155.5,337.0 L156.9,339.6 L158.3,342.3 L159.7,344.9 L161.0,347.4 L162.4,349.7 L163.8,352.0 L165.2,354.0 L166.6,355.8 L168.0,357.4 L169.4,358.9 L170.7,360.1 L172.1,361.1 L173.5,362.0 L174.9,362.7 L176.3,363.3 L177.7,363.8 L179.1,364.1 L180.5,364.4 L181.8,364.7 L183.2,364.8 L184.6,365.0 L186.0,365.1 Z" fill="url(#p5)" stroke="none"/>
<path d="M102.8,365.1 L104.2,365.0 L105.6,364.8 L107.0,364.7 L108.3,364.4 L109.7,364.1 L111.1,363.8 L112.5,363.3 L113.9,362.7 L115.3,362.0 L116.7,361.1 L118.1,360.1 L119.4,358.9 L120.8,357.4 L122.2,355.8 L123.6,354.0 L125.0,352.0 L126.4,349.7 L127.8,347.4 L129.1,344.9 L130.5,342.3 L131.9,339.6 L133.3,337.0 L134.7,334.5 L136.1,332.1 L137.5,330.0 L138.9,328.1 L140.2,326.6 L141.6,325.5 L143.0,324.8 L144.4,324.6 L145.8,324.8 L147.2,325.5 L148.6,326.6 L149.9,328.1 L151.3,330.0 L152.7,332.1 L154.1,334.5 L155.5,337.0 L156.9,339.6 L158.3,342.3 L159.7,344.9 L161.0,347.4 L162.4,349.7 L163.8,352.0 L165.2,354.0 L166.6,355.8 L168.0,357.4 L169.4,358.9 L170.7,360.1 L172.1,361.1 L173.5,362.0 L174.9,362.7 L176.3,363.3 L177.7,363.8 L179.1,364.1 L180.5,364.4 L181.8,364.7 L183.2,364.8 L184.6,365.0 L186.0,365.1" fill="none" stroke="#0000d2" stroke-width="1"/>
<line x1="51" y1="365.3" x2="254" y2="365.3" stroke="#0000d2" stroke-width="1"/>
<rect x="50" y="362" width="2" height="2" fill="#0000d2"/>
<rect x="52" y="363" width="2" height="2" fill="#0000d2"/>
<rect x="54" y="364" width="2" height="2" fill="#0000d2"/>
<rect x="56" y="364" width="2" height="2" fill="#0000d2"/>
<rect x="58" y="366" width="2" height="2" fill="#0000d2"/>
<rect x="60" y="364" width="2" height="2" fill="#0000d2"/>
<rect x="61" y="364" width="2" height="2" fill="#0000d2"/>
<rect x="63" y="364" width="2" height="2" fill="#0000d2"/>
<rect x="65" y="361" width="2" height="2" fill="#0000d2"/>
<rect x="66" y="365" width="2" height="2" fill="#0000d2"/>
<rect x="68" y="363" width="2" height="2" fill="#0000d2"/>
<rect x="70" y="363" width="2" height="2" fill="#0000d2"/>
<rect x="72" y="363" width="2" height="2" fill="#0000d2"/>
<rect x="75" y="362" width="2" height="2" fill="#0000d2"/>
<rect x="77" y="365" width="2" height="2" fill="#0000d2"/>
<rect x="79" y="362" width="2" height="2" fill="#0000d2"/>
<rect x="81" y="365" width="2" height="2" fill="#0000d2"/>
<rect x="83" y="365" width="2" height="2" fill="#0000d2"/>
<rect x="84" y="366" width="2" height="2" fill="#0000d2"/>
<rect x="86" y="364" width="2" height="2" fill="#0000d2"/>
<rect x="87" y="365" width="2" height="2" fill="#0000d2"/>
<rect x="90" y="364" width="2" height="2" fill="#0000d2"/>
<rect x="91" y="365" width="2" height="2" fill="#0000d2"/>
<rect x="92" y="364" width="2" height="2" fill="#0000d2"/>
<rect x="94" y="362" width="2" height="2" fill="#0000d2"/>
<rect x="96" y="366" width="2" height="2" fill="#0000d2"/>
<rect x="98" y="365" width="2" height="2" fill="#0000d2"/>
<rect x="100" y="365" width="2" height="2" fill="#0000d2"/>
<rect x="101" y="361" width="2" height="2" fill="#0000d2"/>
<rect x="104" y="367" width="2" height="2" fill="#0000d2"/>
<rect x="105" y="362" width="2" height="2" fill="#0000d2"/>
<rect x="106" y="364" width="2" height="2" fill="#0000d2"/>
<rect x="109" y="363" width="2" height="2" fill="#0000d2"/>
<rect x="111" y="361" width="2" height="2" fill="#0000d2"/>
<rect x="113" y="360" width="2" height="2" fill="#0000d2"/>
<rect x="114" y="361" width="2" height="2" fill="#0000d2"/>
<rect x="116" y="360" width="2" height="2" fill="#0000d2"/>
<rect x="118" y="358" width="2" height="2" fill="#0000d2"/>
<rect x="119" y="359" width="2" height="2" fill="#0000d2"/>
<rect x="120" y="355" width="2" height="2" fill="#0000d2"/>
<rect x="122" y="356" width="2" height="2" fill="#0000d2"/>
<rect x="124" y="353" width="2" height="2" fill="#0000d2"/>
<rect x="126" y="347" width="2" height="2" fill="#0000d2"/>
<rect x="128" y="346" width="2" height="2" fill="#0000d2"/>
<rect x="130" y="341" width="2" height="2" fill="#0000d2"/>
<rect x="132" y="336" width="2" height="2" fill="#0000d2"/>
<rect x="134" y="335" width="2" height="2" fill="#0000d2"/>
<rect x="135" y="332" width="2" height="2" fill="#0000d2"/>
<rect x="137" y="327" width="2" height="2" fill="#0000d2"/>
<rect x="139" y="327" width="2" height="2" fill="#0000d2"/>
<rect x="141" y="324" width="2" height="2" fill="#0000d2"/>
<rect x="143" y="325" width="2" height="2" fill="#0000d2"/>
<rect x="145" y="324" width="2" height="2" fill="#0000d2"/>
<rect x="147" y="326" width="2" height="2" fill="#0000d2"/>
<rect x="149" y="329" width="2" height="2" fill="#0000d2"/>
<rect x="151" y="330" width="2" height="2" fill="#0000d2"/>
<rect x="153" y="336" width="2" height="2" fill="#0000d2"/>
<rect x="154" y="335" width="2" height="2" fill="#0000d2"/>
<rect x="155" y="336" width="2" height="2" fill="#0000d2"/>
<rect x="157" y="343" width="2" height="2" fill="#0000d2"/>
<rect x="159" y="346" width="2" height="2" fill="#0000d2"/>
<rect x="162" y="348" width="2" height="2" fill="#0000d2"/>
<rect x="163" y="351" width="2" height="2" fill="#0000d2"/>
<rect x="165" y="354" width="2" height="2" fill="#0000d2"/>
<rect x="167" y="356" width="2" height="2" fill="#0000d2"/>
<rect x="168" y="358" width="2" height="2" fill="#0000d2"/>
<rect x="171" y="361" width="2" height="2" fill="#0000d2"/>
<rect x="172" y="359" width="2" height="2" fill="#0000d2"/>
<rect x="174" y="364" width="2" height="2" fill="#0000d2"/>
<rect x="176" y="360" width="2" height="2" fill="#0000d2"/>
<rect x="178" y="363" width="2" height="2" fill="#0000d2"/>
<rect x="180" y="363" width="2" height="2" fill="#0000d2"/>
<rect x="181" y="365" width="2" height="2" fill="#0000d2"/>
<rect x="183" y="363" width="2" height="2" fill="#0000d2"/>
<rect x="185" y="362" width="2" height="2" fill="#0000d2"/>
<rect x="186" y="364" width="2" height="2" fill="#0000d2"/>
<rect x="188" y="362" width="2" height="2" fill="#0000d2"/>
<rect x="189" y="365" width="2" height="2" fill="#0000d2"/>
<rect x="191" y="364" width="2" height="2" fill="#0000d2"/>
<rect x="192" y="363" width="2" height="2" fill="#0000d2"/>
<rect x="194" y="362" width="2" height="2" fill="#0000d2"/>
<rect x="195" y="364" width="2" height="2" fill="#0000d2"/>
<rect x="197" y="366" width="2" height="2" fill="#0000d2"/>
<rect x="198" y="364" width="2" height="2" fill="#0000d2"/>
<rect x="201" y="365" width="2" height="2" fill="#0000d2"/>
<rect x="203" y="367" width="2" height="2" fill="#0000d2"/>
<rect x="204" y="366" width="2" height="2" fill="#0000d2"/>
<rect x="206" y="367" width="2" height="2" fill="#0000d2"/>
<rect x="208" y="364" width="2" height="2" fill="#0000d2"/>
<rect x="209" y="365" width="2" height="2" fill="#0000d2"/>
<rect x="211" y="366" width="2" height="2" fill="#0000d2"/>
<rect x="212" y="364" width="2" height="2" fill="#0000d2"/>
<rect x="214" y="365" width="2" height="2" fill="#0000d2"/>
<rect x="216" y="364" width="2" height="2" fill="#0000d2"/>
<rect x="218" y="363" width="2" height="2" fill="#0000d2"/>
<rect x="220" y="365" width="2" height="2" fill="#0000d2"/>
<rect x="221" y="366" width="2" height="2" fill="#0000d2"/>
<rect x="224" y="366" width="2" height="2" fill="#0000d2"/>
<rect x="225" y="363" width="2" height="2" fill="#0000d2"/>
<rect x="228" y="363" width="2" height="2" fill="#0000d2"/>
<rect x="230" y="365" width="2" height="2" fill="#0000d2"/>
<rect x="232" y="365" width="2" height="2" fill="#0000d2"/>
<rect x="234" y="362" width="2" height="2" fill="#0000d2"/>
<rect x="236" y="363" width="2" height="2" fill="#0000d2"/>
<rect x="238" y="363" width="2" height="2" fill="#0000d2"/>
<rect x="240" y="365" width="2" height="2" fill="#0000d2"/>
<rect x="242" y="365" width="2" height="2" fill="#0000d2"/>
<rect x="244" y="364" width="2" height="2" fill="#0000d2"/>
<rect x="246" y="364" width="2" height="2" fill="#0000d2"/>
<rect x="248" y="363" width="2" height="2" fill="#0000d2"/>
<rect x="250" y="363" width="2" height="2" fill="#0000d2"/>
<rect x="252" y="365" width="2" height="2" fill="#0000d2"/>
<path d="M66.6,145.4 V174.4 M63.1,145.4 H70 M63.1,174.4 H70" stroke="#000" stroke-width="1.2" fill="none"/>
<text x="71.8" y="163.7" font-family="Liberation Sans, sans-serif" font-size="12" textLength="25.5" lengthAdjust="spacingAndGlyphs">1000</text>
<path d="M100.1,129.1 L144.9,175.4 V187.4" stroke="#0000d8" stroke-width="1.1" fill="none"/>
<path d="M149,130.8 L179.6,162.8 L210.4,129.6 M179.6,162.8 V185" stroke="#800080" stroke-width="1.1" fill="none"/>
<path d="M202,159 L187.5,167.7 V180.2" stroke="#e00000" stroke-width="1.1" fill="none"/>
<pattern id="surf" width="2" height="2" patternUnits="userSpaceOnUse"><rect width="2" height="2" fill="#eef4fa"/><rect width="1" height="1" fill="#b4cce6"/><rect x="1" y="1" width="1" height="1" fill="#b4cce6"/></pattern>
<rect x="53" y="109.2" width="52" height="7" fill="url(#surf)"/>
<line x1="53" y1="108.2" x2="105" y2="108.2" stroke="#6e9ccc" stroke-width="1.8"/>
<rect x="129.5" y="109.2" width="51.80000000000001" height="7" fill="url(#surf)"/>
<line x1="129.5" y1="108.2" x2="181.3" y2="108.2" stroke="#6e9ccc" stroke-width="1.8"/>
<rect x="203" y="109.2" width="52" height="7" fill="url(#surf)"/>
<line x1="203" y1="108.2" x2="255" y2="108.2" stroke="#6e9ccc" stroke-width="1.8"/>
<rect x="203" y="178.5" width="52.599999999999994" height="7" fill="url(#surf)"/>
<line x1="203" y1="177.5" x2="255.6" y2="177.5" stroke="#6e9ccc" stroke-width="1.8"/>
<line x1="72.4" y1="103" x2="72.4" y2="108" stroke="#8a8a8a" stroke-width="1"/>
<line x1="97.9" y1="103" x2="97.9" y2="108" stroke="#8a8a8a" stroke-width="1"/>
<text x="59.2" y="94.5" font-family="Liberation Sans, sans-serif" font-size="11.5" text-anchor="middle" fill="#1f7a32">H</text>
<text x="68" y="87.7" font-family="Liberation Sans, sans-serif" font-size="11.5" text-anchor="middle" fill="#1f7a32">H</text>
<text x="82.6" y="93.9" font-family="Liberation Sans, sans-serif" font-size="11.5" text-anchor="middle" fill="#5a8aa0">H</text>
<text x="72.4" y="102.60000000000001" font-family="Liberation Sans, sans-serif" font-size="11.5" text-anchor="middle" fill="#1a3a98">N</text>
<text x="97.9" y="101.60000000000001" font-family="Liberation Sans, sans-serif" font-size="11.5" text-anchor="middle" fill="#cc1a1a">O</text>
<line x1="148" y1="103" x2="148" y2="108" stroke="#8a8a8a" stroke-width="1"/>
<line x1="174.2" y1="103" x2="174.2" y2="108" stroke="#8a8a8a" stroke-width="1"/>
<text x="135" y="95.4" font-family="Liberation Sans, sans-serif" font-size="11.5" text-anchor="middle" fill="#1f7a32">H</text>
<text x="143" y="88.7" font-family="Liberation Sans, sans-serif" font-size="11.5" text-anchor="middle" fill="#1f7a32">H</text>
<text x="148" y="102.9" font-family="Liberation Sans, sans-serif" font-size="11.5" text-anchor="middle" fill="#1a3a98">N</text>
<text x="163.7" y="92.9" font-family="Liberation Sans, sans-serif" font-size="11.5" text-anchor="middle" fill="#1f7a32">H</text>
<text x="174.2" y="102.2" font-family="Liberation Sans, sans-serif" font-size="11.5" text-anchor="middle" fill="#cc1a1a">O</text>
<line x1="213" y1="103" x2="213" y2="108" stroke="#8a8a8a" stroke-width="1"/>
<line x1="239.5" y1="103" x2="239.5" y2="108" stroke="#8a8a8a" stroke-width="1"/>
<text x="213" y="101.7" font-family="Liberation Sans, sans-serif" font-size="11.5" text-anchor="middle" fill="#1a3a98">N</text>
<text x="208.7" y="88.7" font-family="Liberation Sans, sans-serif" font-size="11.5" text-anchor="middle" fill="#1f7a32">H</text>
<text x="228.7" y="92.9" font-family="Liberation Sans, sans-serif" font-size="11.5" text-anchor="middle" fill="#1f7a32">H</text>
<text x="239.5" y="102.2" font-family="Liberation Sans, sans-serif" font-size="11.5" text-anchor="middle" fill="#cc1a1a">O</text>
<text x="250" y="92.9" font-family="Liberation Sans, sans-serif" font-size="11.5" text-anchor="middle" fill="#1f7a32">H</text>
<line x1="62" y1="88" x2="69" y2="94" stroke="#708070" stroke-width="1" stroke-dasharray="1,1"/>
<line x1="80" y1="92" x2="75" y2="95" stroke="#708070" stroke-width="1" stroke-dasharray="1,1"/>
<line x1="138" y1="89" x2="145" y2="94" stroke="#708070" stroke-width="1" stroke-dasharray="1,1"/>
<line x1="166" y1="88" x2="171" y2="94" stroke="#708070" stroke-width="1" stroke-dasharray="1,1"/>
<line x1="211" y1="88" x2="212" y2="92" stroke="#708070" stroke-width="1" stroke-dasharray="1,1"/>
<line x1="231" y1="88" x2="236" y2="94" stroke="#708070" stroke-width="1" stroke-dasharray="1,1"/>
<line x1="247" y1="88" x2="242" y2="94" stroke="#708070" stroke-width="1" stroke-dasharray="1,1"/>
<line x1="114" y1="99" x2="126.4" y2="99" stroke="#3a2a10" stroke-width="1"/>
<path d="M111,99 l5,-3 v6 Z M129.4,99 l-5,-3 v6 Z" fill="#000"/>
<line x1="188" y1="99.2" x2="200.7" y2="99.2" stroke="#3a2a10" stroke-width="1"/>
<path d="M185,99.2 l5,-3 v6 Z M203.7,99.2 l-5,-3 v6 Z" fill="#000"/>
<line x1="228.6" y1="124.7" x2="228.6" y2="133" stroke="#3a2a10" stroke-width="1"/><path d="M225.6,132 L231.6,132 L228.6,137 Z" fill="#000"/>
<line x1="237.8" y1="153" x2="248" y2="145.5" stroke="#a08060" stroke-width="1"/><path d="M251,143.4 l-6,2 l3,3.5 Z" fill="#000"/>
<text x="208.4" y="152" font-family="Liberation Sans, sans-serif" font-size="12" fill="#2a6a9a" textLength="21.5" lengthAdjust="spacingAndGlyphs">H<tspan font-size="8.5" dy="2">2</tspan><tspan dy="-2" fill="#cc1a1a">O</tspan></text>
<text x="205.4" y="167" font-family="Liberation Sans, sans-serif" font-size="8.5" fill="#3a6a9a">1/2</text>
<text x="220.6" y="167" font-family="Liberation Sans, sans-serif" font-size="12" fill="#1f7a32" textLength="11.6" lengthAdjust="spacingAndGlyphs">H<tspan font-size="8.5" dy="1.5">2</tspan></text>
<text x="248.7" y="168.7" font-family="Liberation Sans, sans-serif" font-size="12" text-anchor="middle" fill="#1a3a98">N</text>
<line x1="248.7" y1="170" x2="248.7" y2="177.5" stroke="#8a8a8a" stroke-width="1"/>

<pattern id="gp" width="4" height="4" patternUnits="userSpaceOnUse"><rect x="0" y="0" width="1.2" height="1.2" fill="#107a20"/><rect x="2" y="2" width="1.2" height="1.2" fill="#107a20"/></pattern>
<path d="M280.0,181.0 L280.8,182.1 L281.6,181.2 L282.4,182.5 L283.2,182.9 L284.0,182.2 L284.8,182.6 L285.6,182.8 L286.4,184.0 L287.2,183.0 L288.0,182.6 L288.8,182.5 L289.6,183.9 L290.4,182.8 L291.2,182.7 L292.0,183.0 L292.8,182.4 L293.6,183.2 L294.4,181.7 L295.2,180.9 L296.0,181.7 L296.8,181.5 L297.6,180.8 L298.4,180.0 L299.2,180.8 L300.0,181.6 L300.8,180.8 L301.6,180.6 L302.4,179.0 L303.2,179.8 L304.0,179.6 L304.8,179.5 L305.6,179.8 L306.4,179.6 L307.2,179.1 L308.0,179.5 L308.8,178.6 L309.6,179.0 L310.4,178.0 L311.2,180.0 L312.0,178.9 L312.8,177.9 L313.6,177.8 L314.4,177.6 L315.2,178.1 L316.0,178.0 L316.8,178.2 L317.6,177.0 L318.4,178.8 L319.2,177.5 L320.0,177.3 L320.8,177.0 L321.6,176.8 L322.4,177.5 L323.2,175.8 L324.0,175.9 L324.8,175.2 L325.6,175.7 L326.4,174.9 L327.2,174.6 L328.0,173.3 L328.8,174.4 L329.6,172.7 L330.4,173.4 L331.2,173.5 L332.0,172.8 L332.8,172.5 L333.6,172.2 L334.4,173.0 L335.2,170.7 L336.0,171.9 L336.8,171.3 L337.6,171.1 L338.4,172.0 L339.2,170.4 L340.0,170.7 L340.8,170.6 L341.6,169.5 L342.4,169.4 L343.2,170.4 L344.0,171.4 L344.8,169.4 L345.6,170.6 L346.4,169.8 L347.2,172.1 L348.0,171.4 L348.8,171.9 L349.6,171.4 L350.4,172.0 L351.2,174.6 L352.0,174.7 L352.8,174.1 L353.6,175.5 L354.4,176.4 L355.2,176.7 L356.0,178.6 L356.8,179.6 L357.6,181.0 L358.4,181.6 L359.2,182.6 L360.0,182.6 L360.8,184.7 L361.6,186.1 L362.4,186.2 L363.2,188.6 L364.0,188.9 L364.8,189.4 L365.6,190.3 L366.4,190.1 L367.2,191.9 L368.0,192.6 L368.8,192.2 L369.6,193.8 L370.4,195.3 L371.2,193.7 L372.0,194.6 L372.8,194.9 L373.6,195.9 L374.4,194.6 L375.2,194.6 L376.0,194.6 L376.8,195.7 L377.6,196.8 L378.4,195.9 L379.2,195.6 L380.0,196.6 L380.8,196.3 L381.6,195.9 L382.4,196.4 L383.2,196.4 L384.0,196.0 L384.8,196.8 L385.6,197.4 L386.4,196.1 L387.2,196.5 L388.0,196.9 L388.8,196.6 L389.6,195.6 L390.4,196.6 L391.2,196.7 L392.0,196.4 L392.8,195.8 L393.6,196.9 L394.4,198.0 L395.2,198.0 L396.0,197.1 L396.8,197.2 L397.6,196.3 L398.4,197.0 L399.2,197.0 L400.0,197.5 L400.8,198.6 L401.6,197.7 L402.4,198.2 L403.2,197.9 L404.0,197.0 L404.8,197.1 L405.6,197.7 L406.4,197.8 L407.2,198.3 L408.0,198.4 L408.8,197.5 L409.6,199.5 L410.4,198.6 L411.2,198.7 L412.0,199.7 L412.8,198.8 L413.6,198.8 L414.4,197.9 L415.2,197.9 L416.0,197.9 L416.8,198.6 L417.6,199.0 L418.4,199.4 L419.2,198.6 L420.0,198.0 L420.8,199.0 L421.6,199.0 L422.4,199.0 L423.2,199.0 L424.0,199.0 L424.8,198.7 L425.6,199.1 L426.4,199.1 L427.2,200.1 L428.0,199.1 L428.8,198.8 L429.6,200.2 L430.4,199.2 L431.2,198.9 L432.0,199.7 L432.8,199.0 L433.6,199.4 L434.4,199.1 L435.2,200.5 L436.0,199.6 L436.8,199.2 L437.6,200.1 L438.4,199.3 L439.2,199.4 L440.0,200.3 L440.8,200.3 L441.6,200.0 L442.4,199.7 L443.2,200.5 L444.0,200.2 L444.8,200.3 L445.6,200.3 L446.4,199.4 L447.2,200.5 L448.0,199.6 L448.8,199.6 L449.6,199.7 L450.4,199.8 L451.2,200.9 L452.0,201.0 L452.8,200.6 L453.6,201.5 L454.4,201.6 L455.2,201.3 L456.0,201.3 L456.8,201.4 L457.6,202.5 L458.4,201.6 L459.2,201.6 L460.0,201.7 L460.8,201.8 L461.6,201.5 L462.4,202.3 L463.2,201.0 L464.0,201.7 L464.8,201.7 L465.6,202.2 L466.4,202.2 L467.2,202.7 L468.0,203.4 L468.8,202.4 L469.6,202.5 L470.4,201.5 L471.2,202.6 L472.0,202.2 L472.8,202.3 L473.6,203.1 L474.4,201.7 L475.2,201.8 L476.0,202.8 L476.8,202.8 L477.6,202.9 L478.4,202.5 L479.2,201.9 L480.0,201.9 L480.8,202.6 L481.6,203.0 L482.4,203.0 L483.2,203.0 L484.0,203.0 L484.8,202.6" fill="none" stroke="#b04a3a" stroke-width="1.05"/>
<path d="M280.0,199.0 L280.8,200.0 L281.6,199.6 L282.4,200.0 L283.2,200.0 L284.0,200.4 L284.8,200.4 L285.6,200.4 L286.4,200.0 L287.2,200.0 L288.0,199.6 L288.8,200.0 L289.6,199.0 L290.4,199.0 L291.2,200.0 L292.0,200.0 L292.8,200.4 L293.6,200.0 L294.4,199.0 L295.2,199.0 L296.0,200.0 L296.8,200.4 L297.6,199.0 L298.4,200.0 L299.2,199.0 L300.0,200.4 L300.8,200.0 L301.6,200.0 L302.4,199.6 L303.2,199.0 L304.0,198.9 L304.8,199.9 L305.6,199.9 L306.4,199.8 L307.2,200.2 L308.0,198.8 L308.8,200.1 L309.6,200.1 L310.4,200.0 L311.2,199.1 L312.0,200.5 L312.8,199.4 L313.6,199.3 L314.4,198.3 L315.2,199.6 L316.0,199.1 L316.8,198.0 L317.6,200.0 L318.4,199.9 L319.2,198.8 L320.0,199.7 L320.8,197.6 L321.6,199.5 L322.4,198.5 L323.2,198.4 L324.0,197.3 L324.8,198.2 L325.6,198.5 L326.4,198.0 L327.2,198.0 L328.0,197.9 L328.8,196.8 L329.6,197.7 L330.4,196.7 L331.2,196.6 L332.0,196.5 L332.8,197.9 L333.6,196.4 L334.4,197.3 L335.2,197.3 L336.0,197.6 L336.8,197.2 L337.6,197.2 L338.4,197.5 L339.2,197.5 L340.0,197.1 L340.8,197.0 L341.6,197.0 L342.4,197.0 L343.2,198.0 L344.0,197.0 L344.8,196.1 L345.6,197.4 L346.4,198.8 L347.2,198.3 L348.0,197.8 L348.8,199.3 L349.6,199.7 L350.4,198.9 L351.2,200.0 L352.0,199.0 L352.8,199.7 L353.6,200.6 L354.4,199.3 L355.2,200.4 L356.0,201.6 L356.8,200.8 L357.6,201.5 L358.4,201.3 L359.2,201.6 L360.0,200.9 L360.8,202.1 L361.6,202.5 L362.4,202.4 L363.2,203.5 L364.0,203.4 L364.8,203.3 L365.6,204.0 L366.4,203.9 L367.2,205.6 L368.0,204.8 L368.8,205.5 L369.6,205.3 L370.4,205.5 L371.2,205.2 L372.0,205.8 L372.8,205.9 L373.6,206.3 L374.4,206.0 L375.2,205.6 L376.0,206.5 L376.8,206.4 L377.6,207.7 L378.4,208.1 L379.2,208.6 L380.0,207.7 L380.8,208.1 L381.6,208.8 L382.4,208.6 L383.2,209.0 L384.0,209.0 L384.8,208.6 L385.6,208.6 L386.4,208.6 L387.2,209.1 L388.0,209.1 L388.8,210.1 L389.6,210.2 L390.4,208.2 L391.2,209.6 L392.0,208.3 L392.8,209.3 L393.6,210.4 L394.4,209.0 L395.2,208.5 L396.0,209.5 L396.8,209.6 L397.6,209.7 L398.4,209.3 L399.2,210.8 L400.0,209.9 L400.8,209.9 L401.6,210.4 L402.4,210.1 L403.2,210.1 L404.0,210.6 L404.8,210.3 L405.6,210.7 L406.4,211.4 L407.2,211.5 L408.0,210.5 L408.8,210.6 L409.6,210.6 L410.4,209.7 L411.2,211.7 L412.0,209.8 L412.8,210.8 L413.6,211.9 L414.4,210.9 L415.2,209.9 L416.0,211.3 L416.8,211.4 L417.6,211.0 L418.4,211.0 L419.2,211.0 L420.0,211.0 L420.8,211.4 L421.6,212.0 L422.4,211.0 L423.2,210.0 L424.0,211.4 L424.8,210.6 L425.6,211.1 L426.4,211.1 L427.2,210.7 L428.0,210.1 L428.8,212.2 L429.6,212.2 L430.4,211.2 L431.2,210.8 L432.0,212.3 L432.8,210.9 L433.6,212.4 L434.4,210.4 L435.2,211.8 L436.0,210.5 L436.8,211.5 L437.6,210.6 L438.4,212.0 L439.2,211.7 L440.0,212.1 L440.8,212.2 L441.6,212.8 L442.4,211.9 L443.2,211.0 L444.0,212.4 L444.8,211.7 L445.6,211.7 L446.4,213.2 L447.2,212.3 L448.0,212.3 L448.8,212.0 L449.6,212.9 L450.4,211.5 L451.2,213.6 L452.0,212.7 L452.8,212.7 L453.6,213.2 L454.4,211.9 L455.2,212.5 L456.0,212.6 L456.8,213.1 L457.6,214.1 L458.4,213.2 L459.2,213.2 L460.0,213.7 L460.8,213.4 L461.6,213.4 L462.4,213.5 L463.2,214.5 L464.0,213.2 L464.8,213.7 L465.6,214.7 L466.4,214.8 L467.2,214.2 L468.0,213.5 L468.8,212.9 L469.6,214.0 L470.4,214.4 L471.2,214.0 L472.0,213.7 L472.8,214.1 L473.6,214.1 L474.4,213.8 L475.2,214.6 L476.0,213.2 L476.8,214.3 L477.6,214.3 L478.4,214.3 L479.2,214.7 L480.0,214.4 L480.8,215.4 L481.6,215.4 L482.4,214.4 L483.2,214.4 L484.0,214.4 L484.8,214.8" fill="none" stroke="#e00000" stroke-width="1.05"/>
<path d="M280.0,212.6 L280.8,212.1 L281.6,213.7 L282.4,214.7 L283.2,215.1 L284.0,215.6 L284.8,215.4 L285.6,215.8 L286.4,214.6 L287.2,215.2 L288.0,215.2 L288.8,215.6 L289.6,214.6 L290.4,215.6 L291.2,215.5 L292.0,216.5 L292.8,215.5 L293.6,215.4 L294.4,215.8 L295.2,216.4 L296.0,214.3 L296.8,215.3 L297.6,215.2 L298.4,214.2 L299.2,214.1 L300.0,215.1 L300.8,215.0 L301.6,215.0 L302.4,214.9 L303.2,215.9 L304.0,214.8 L304.8,214.8 L305.6,213.7 L306.4,214.3 L307.2,215.6 L308.0,215.6 L308.8,213.5 L309.6,214.5 L310.4,215.5 L311.2,213.5 L312.0,214.0 L312.8,214.4 L313.6,214.4 L314.4,214.8 L315.2,215.4 L316.0,214.0 L316.8,214.3 L317.6,213.9 L318.4,214.2 L319.2,214.5 L320.0,214.0 L320.8,214.8 L321.6,214.1 L322.4,213.9 L323.2,213.3 L324.0,213.1 L324.8,212.9 L325.6,213.1 L326.4,211.5 L327.2,213.2 L328.0,211.6 L328.8,211.8 L329.6,211.5 L330.4,211.3 L331.2,211.0 L332.0,211.8 L332.8,211.0 L333.6,210.4 L334.4,210.6 L335.2,209.6 L336.0,209.8 L336.8,209.6 L337.6,210.5 L338.4,209.4 L339.2,209.2 L340.0,209.2 L340.8,209.5 L341.6,209.0 L342.4,210.0 L343.2,210.0 L344.0,209.0 L344.8,208.7 L345.6,209.2 L346.4,210.3 L347.2,209.1 L348.0,209.7 L348.8,209.9 L349.6,210.2 L350.4,210.5 L351.2,210.9 L352.0,210.8 L352.8,211.6 L353.6,212.0 L354.4,211.5 L355.2,212.9 L356.0,212.4 L356.8,213.9 L357.6,214.4 L358.4,214.0 L359.2,215.5 L360.0,215.1 L360.8,216.7 L361.6,217.2 L362.4,217.8 L363.2,219.4 L364.0,219.0 L364.8,218.6 L365.6,220.1 L366.4,219.7 L367.2,221.6 L368.0,221.4 L368.8,221.3 L369.6,222.8 L370.4,223.3 L371.2,223.8 L372.0,225.3 L372.8,224.7 L373.6,225.1 L374.4,225.1 L375.2,225.8 L376.0,226.1 L376.8,226.0 L377.6,226.7 L378.4,226.9 L379.2,228.1 L380.0,227.2 L380.8,227.4 L381.6,227.4 L382.4,226.5 L383.2,227.1 L384.0,227.5 L384.8,227.5 L385.6,226.6 L386.4,227.7 L387.2,227.4 L388.0,228.3 L388.8,229.0 L389.6,227.2 L390.4,227.3 L391.2,228.1 L392.0,228.3 L392.8,228.5 L393.6,228.1 L394.4,229.7 L395.2,229.6 L396.0,229.8 L396.8,230.5 L397.6,230.4 L398.4,230.2 L399.2,230.9 L400.0,231.2 L400.8,230.5 L401.6,231.8 L402.4,232.5 L403.2,232.4 L404.0,231.6 L404.8,233.9 L405.6,233.2 L406.4,233.5 L407.2,233.7 L408.0,234.4 L408.8,233.8 L409.6,234.8 L410.4,234.7 L411.2,234.9 L412.0,234.1 L412.8,235.2 L413.6,235.8 L414.4,235.5 L415.2,236.7 L416.0,235.8 L416.8,235.8 L417.6,235.5 L418.4,236.0 L419.2,235.6 L420.0,237.0 L420.8,236.4 L421.6,236.0 L422.4,236.4 L423.2,235.6 L424.0,236.0 L424.8,235.7 L425.6,237.1 L426.4,236.1 L427.2,236.1 L428.0,236.2 L428.8,237.2 L429.6,235.9 L430.4,235.9 L431.2,236.8 L432.0,236.8 L432.8,237.5 L433.6,236.5 L434.4,236.2 L435.2,236.6 L436.0,236.7 L436.8,236.8 L437.6,236.5 L438.4,236.5 L439.2,238.0 L440.0,236.7 L440.8,236.2 L441.6,236.8 L442.4,236.9 L443.2,237.0 L444.0,237.9 L444.8,236.6 L445.6,237.7 L446.4,237.8 L447.2,236.9 L448.0,238.0 L448.8,239.1 L449.6,238.2 L450.4,238.2 L451.2,239.3 L452.0,238.8 L452.8,238.1 L453.6,238.2 L454.4,238.7 L455.2,239.2 L456.0,239.3 L456.8,240.0 L457.6,238.1 L458.4,238.2 L459.2,238.9 L460.0,239.4 L460.8,239.9 L461.6,239.6 L462.4,240.7 L463.2,239.7 L464.0,238.8 L464.8,240.3 L465.6,240.0 L466.4,240.5 L467.2,241.1 L468.0,240.2 L468.8,240.3 L469.6,240.7 L470.4,241.4 L471.2,240.1 L472.0,241.5 L472.8,239.6 L473.6,240.6 L474.4,239.7 L475.2,239.7 L476.0,239.8 L476.8,241.8 L477.6,240.8 L478.4,240.9 L479.2,240.9 L480.0,240.9 L480.8,240.9 L481.6,240.6 L482.4,240.6 L483.2,240.6 L484.0,240.0 L484.8,240.6" fill="none" stroke="#e00000" stroke-width="1.05"/>
<path d="M280.0,231.2 L280.8,232.6 L281.6,231.2 L282.4,231.6 L283.2,232.0 L284.0,230.6 L284.8,231.6 L285.6,230.6 L286.4,231.2 L287.2,231.9 L288.0,231.5 L288.8,230.5 L289.6,232.5 L290.4,230.5 L291.2,231.5 L292.0,231.5 L292.8,231.5 L293.6,231.4 L294.4,231.4 L295.2,231.4 L296.0,231.4 L296.8,231.0 L297.6,231.4 L298.4,231.4 L299.2,230.4 L300.0,231.8 L300.8,231.8 L301.6,230.4 L302.4,232.4 L303.2,231.0 L304.0,231.0 L304.8,231.4 L305.6,231.4 L306.4,231.4 L307.2,231.9 L308.0,231.5 L308.8,231.5 L309.6,231.1 L310.4,231.5 L311.2,231.1 L312.0,230.5 L312.8,231.5 L313.6,232.6 L314.4,230.6 L315.2,231.6 L316.0,230.6 L316.8,232.6 L317.6,232.6 L318.4,232.0 L319.2,232.6 L320.0,232.0 L320.8,231.6 L321.6,231.6 L322.4,231.6 L323.2,231.2 L324.0,231.7 L324.8,231.7 L325.6,231.7 L326.4,232.8 L327.2,232.8 L328.0,231.9 L328.8,231.9 L329.6,231.0 L330.4,232.4 L331.2,232.5 L332.0,233.1 L332.8,231.8 L333.6,233.2 L334.4,232.3 L335.2,231.9 L336.0,232.3 L336.8,232.4 L337.6,232.8 L338.4,232.4 L339.2,233.4 L340.0,232.4 L340.8,233.4 L341.6,232.0 L342.4,232.4 L343.2,232.1 L344.0,232.9 L344.8,232.1 L345.6,231.6 L346.4,233.6 L347.2,232.7 L348.0,232.8 L348.8,232.9 L349.6,231.9 L350.4,232.0 L351.2,233.1 L352.0,233.6 L352.8,233.3 L353.6,232.4 L354.4,233.2 L355.2,233.7 L356.0,234.2 L356.8,233.9 L357.6,234.1 L358.4,233.8 L359.2,234.7 L360.0,234.4 L360.8,234.6 L361.6,234.3 L362.4,234.9 L363.2,234.0 L364.0,235.1 L364.8,235.2 L365.6,235.4 L366.4,235.9 L367.2,235.2 L368.0,236.2 L368.8,234.9 L369.6,237.0 L370.4,236.1 L371.2,236.2 L372.0,235.3 L372.8,235.4 L373.6,236.5 L374.4,235.6 L375.2,237.0 L376.0,236.3 L376.8,236.8 L377.6,236.8 L378.4,236.9 L379.2,236.9 L380.0,235.9 L380.8,238.0 L381.6,236.6 L382.4,237.4 L383.2,237.0 L384.0,236.0 L384.8,236.0 L385.6,237.1 L386.4,237.2 L387.2,237.3 L388.0,237.4 L388.8,237.5 L389.6,237.6 L390.4,237.8 L391.2,237.9 L392.0,238.1 L392.8,238.3 L393.6,239.5 L394.4,237.7 L395.2,239.4 L396.0,239.2 L396.8,240.4 L397.6,240.1 L398.4,239.0 L399.2,240.2 L400.0,240.5 L400.8,241.2 L401.6,242.0 L402.4,240.3 L403.2,241.6 L404.0,241.4 L404.8,242.1 L405.6,242.4 L406.4,242.2 L407.2,243.9 L408.0,243.1 L408.8,243.3 L409.6,243.5 L410.4,243.7 L411.2,242.9 L412.0,244.1 L412.8,244.3 L413.6,244.4 L414.4,244.6 L415.2,244.7 L416.0,244.8 L416.8,244.9 L417.6,244.9 L418.4,245.0 L419.2,245.0 L420.0,245.0 L420.8,245.0 L421.6,245.4 L422.4,245.0 L423.2,245.0 L424.0,245.0 L424.8,245.5 L425.6,245.5 L426.4,245.5 L427.2,245.1 L428.0,244.2 L428.8,244.2 L429.6,246.2 L430.4,244.9 L431.2,245.3 L432.0,244.3 L432.8,245.8 L433.6,245.0 L434.4,245.5 L435.2,246.5 L436.0,246.0 L436.8,245.6 L437.6,244.6 L438.4,245.7 L439.2,246.1 L440.0,245.8 L440.8,244.8 L441.6,245.8 L442.4,246.2 L443.2,245.9 L444.0,244.9 L444.8,246.9 L445.6,245.5 L446.4,246.0 L447.2,246.4 L448.0,246.0 L448.8,246.0 L449.6,247.0 L450.4,245.6 L451.2,245.0 L452.0,246.1 L452.8,245.1 L453.6,247.2 L454.4,246.7 L455.2,246.4 L456.0,246.1 L456.8,247.6 L457.6,246.4 L458.4,246.9 L459.2,247.5 L460.0,246.3 L460.8,246.5 L461.6,247.7 L462.4,248.0 L463.2,248.2 L464.0,247.4 L464.8,248.3 L465.6,249.9 L466.4,248.2 L467.2,249.4 L468.0,249.7 L468.8,249.5 L469.6,249.2 L470.4,250.4 L471.2,250.6 L472.0,250.5 L472.8,251.5 L473.6,251.3 L474.4,251.5 L475.2,251.7 L476.0,251.9 L476.8,252.5 L477.6,252.3 L478.4,252.8 L479.2,252.5 L480.0,252.7 L480.8,253.8 L481.6,253.2 L482.4,252.9 L483.2,254.0 L484.0,252.6 L484.8,253.0" fill="none" stroke="#e00000" stroke-width="1.05"/>
<path d="M373.6,252.9 L374.4,252.3 L375.2,252.9 L376.0,252.2 L376.8,251.0 L377.6,252.1 L378.4,251.5 L379.2,251.3 L380.0,251.5 L380.8,251.9 L381.6,251.2 L382.4,250.7 L383.2,250.7 L384.0,250.3 L384.8,250.4 L385.6,250.9 L386.4,251.5 L387.2,251.8 L388.0,251.7 L388.8,252.2 L389.6,251.6 L390.4,253.2 L391.2,254.1 L392.0,254.4 L392.8,255.0 L393.6,255.7 L394.4,256.8 L395.2,257.1 L396.0,257.7 L396.8,258.4 L397.6,260.0 L398.4,259.7 L399.2,260.2 L400.0,260.8 L400.8,260.9 L401.6,261.8 L402.4,262.6 L403.2,262.6 L404.0,262.5 L404.8,262.3 L405.6,263.5 L406.4,264.8 L407.2,264.0 L408.0,263.1 L408.8,264.3 L409.6,264.8 L410.4,264.5 L411.2,264.5 L412,264.6 L373,254.4 Z" fill="url(#gp)"/>
<path d="M280.0,249.4 L280.8,248.6 L281.6,248.6 L282.4,248.9 L283.2,247.9 L284.0,248.8 L284.8,248.8 L285.6,249.7 L286.4,248.6 L287.2,248.5 L288.0,249.4 L288.8,248.3 L289.6,248.3 L290.4,248.1 L291.2,248.1 L292.0,248.4 L292.8,248.3 L293.6,247.8 L294.4,248.1 L295.2,247.6 L296.0,247.2 L296.8,247.9 L297.6,247.5 L298.4,248.4 L299.2,247.0 L300.0,247.0 L300.8,247.0 L301.6,247.4 L302.4,247.7 L303.2,246.9 L304.0,247.6 L304.8,246.1 L305.6,247.5 L306.4,246.0 L307.2,245.9 L308.0,246.8 L308.8,246.7 L309.6,246.6 L310.4,245.5 L311.2,246.4 L312.0,245.3 L312.8,245.2 L313.6,245.7 L314.4,246.1 L315.2,246.0 L316.0,245.0 L316.8,247.0 L317.6,245.0 L318.4,246.4 L319.2,245.7 L320.0,246.2 L320.8,245.9 L321.6,246.8 L322.4,246.6 L323.2,246.7 L324.0,246.9 L324.8,247.1 L325.6,247.0 L326.4,247.6 L327.2,247.8 L328.0,248.0 L328.8,248.7 L329.6,248.1 L330.4,249.8 L331.2,250.0 L332.0,248.2 L332.8,250.4 L333.6,248.6 L334.4,249.8 L335.2,250.9 L336.0,251.1 L336.8,250.2 L337.6,251.3 L338.4,251.3 L339.2,251.4 L340.0,250.0 L340.8,250.4 L341.6,250.4 L342.4,250.8 L343.2,250.5 L344.0,250.5 L344.8,251.5 L345.6,250.2 L346.4,250.6 L347.2,250.3 L348.0,251.1 L348.8,251.8 L349.6,250.8 L350.4,250.9 L351.2,250.9 L352.0,251.0 L352.8,252.0 L353.6,251.5 L354.4,252.1 L355.2,250.8 L356.0,251.2 L356.8,251.6 L357.6,251.3 L358.4,251.3 L359.2,250.3 L360.0,251.3 L360.8,251.3 L361.6,250.4 L362.4,251.5 L363.2,250.7 L364.0,251.9 L364.8,252.1 L365.6,252.3 L366.4,252.6 L367.2,253.8 L368.0,253.4 L368.8,253.2 L369.6,253.3 L370.4,254.4 L371.2,254.4 L372.0,252.3 L372.8,252.2" fill="none" stroke="#d80020" stroke-width="1.05"/>
<path d="M373.6,252.9 L374.4,252.3 L375.2,252.9 L376.0,252.2 L376.8,251.0 L377.6,252.1 L378.4,251.5 L379.2,251.3 L380.0,251.5 L380.8,251.9 L381.6,251.2 L382.4,250.7 L383.2,250.7 L384.0,250.3 L384.8,250.4 L385.6,250.9 L386.4,251.5 L387.2,251.8 L388.0,251.7 L388.8,252.2 L389.6,251.6 L390.4,253.2 L391.2,254.1 L392.0,254.4 L392.8,255.0 L393.6,255.7 L394.4,256.8 L395.2,257.1 L396.0,257.7 L396.8,258.4 L397.6,260.0 L398.4,259.7 L399.2,260.2 L400.0,260.8 L400.8,260.9 L401.6,261.8 L402.4,262.6 L403.2,262.6 L404.0,262.5 L404.8,262.3 L405.6,263.5 L406.4,264.8 L407.2,264.0 L408.0,263.1 L408.8,264.3 L409.6,264.8 L410.4,264.5 L411.2,264.5" fill="none" stroke="#109010" stroke-width="1.05"/>
<path d="M412.0,264.6 L412.8,265.6 L413.6,264.2 L414.4,265.0 L415.2,264.6 L416.0,264.6 L416.8,265.7 L417.6,264.7 L418.4,264.7 L419.2,264.4 L420.0,265.8 L420.8,264.8 L421.6,264.9 L422.4,264.5 L423.2,264.5 L424.0,264.0 L424.8,266.0 L425.6,265.1 L426.4,266.1 L427.2,265.2 L428.0,266.2 L428.8,264.3 L429.6,264.9 L430.4,265.3 L431.2,264.4 L432.0,265.4 L432.8,265.0 L433.6,265.5 L434.4,265.5 L435.2,264.5 L436.0,266.0 L436.8,266.6 L437.6,266.6 L438.4,265.6 L439.2,264.6 L440.0,265.6 L440.8,265.6 L441.6,265.6 L442.4,266.6 L443.2,265.7 L444.0,264.7 L444.8,265.8 L445.6,264.8 L446.4,265.9 L447.2,266.3 L448.0,265.0 L448.8,266.1 L449.6,265.2 L450.4,265.3 L451.2,266.8 L452.0,266.9 L452.8,266.2 L453.6,265.7 L454.4,267.3 L455.2,268.0 L456.0,267.5 L456.8,267.3 L457.6,267.0 L458.4,267.9 L459.2,267.3 L460.0,267.8 L460.8,269.0 L461.6,268.1 L462.4,268.3 L463.2,269.4 L464.0,268.6 L464.8,268.7 L465.6,268.9 L466.4,269.0 L467.2,270.2 L468.0,269.3 L468.8,269.8 L469.6,269.2 L470.4,269.7 L471.2,269.8 L472.0,270.0 L472.8,271.1 L473.6,270.6 L474.4,269.3 L475.2,270.8 L476.0,270.5 L476.8,269.6 L477.6,270.6 L478.4,271.7 L479.2,271.8 L480.0,271.2 L480.8,270.9 L481.6,271.9 L482.4,270.0 L483.2,272.0 L484.0,271.0 L484.8,272.0" fill="none" stroke="#d80020" stroke-width="1.05"/>
<path d="M373.6,267.3 L374.4,267.9 L375.2,267.4 L376.0,265.9 L376.8,264.9 L377.6,265.1 L378.4,264.5 L379.2,263.5 L380.0,262.9 L380.8,262.3 L381.6,261.7 L382.4,260.2 L383.2,260.3 L384.0,260.2 L384.8,260.9 L385.6,259.2 L386.4,258.5 L387.2,259.0 L388.0,260.5 L388.8,260.7 L389.6,259.6 L390.4,261.4 L391.2,260.6 L392.0,260.6 L392.8,262.3 L393.6,263.1 L394.4,264.0 L395.2,265.3 L396.0,265.9 L396.8,265.8 L397.6,267.8 L398.4,269.2 L399.2,269.7 L400.0,269.6 L400.8,271.8 L401.6,272.2 L402.4,273.0 L403.2,274.7 L404.0,274.3 L404.8,274.8 L405.6,274.3 L406.4,276.7 L407.2,275.7 L408.0,276.4 L408.8,276.3 L409.6,277.3 L410.4,276.1 L411.2,278.2 L412,277.6 L373,270.0 Z" fill="url(#gp)"/>
<path d="M280.0,264.0 L280.8,265.0 L281.6,265.0 L282.4,265.4 L283.2,263.9 L284.0,264.9 L284.8,264.9 L285.6,265.2 L286.4,263.8 L287.2,265.7 L288.0,263.7 L288.8,264.6 L289.6,264.5 L290.4,264.1 L291.2,264.0 L292.0,264.7 L292.8,263.9 L293.6,264.6 L294.4,264.2 L295.2,264.5 L296.0,263.7 L296.8,264.1 L297.6,263.6 L298.4,264.0 L299.2,264.0 L300.0,264.0 L300.8,264.0 L301.6,263.9 L302.4,262.9 L303.2,263.8 L304.0,263.7 L304.8,263.9 L305.6,262.3 L306.4,263.2 L307.2,263.4 L308.0,262.4 L308.8,263.5 L309.6,261.9 L310.4,261.1 L311.2,262.9 L312.0,261.6 L312.8,260.4 L313.6,261.2 L314.4,261.1 L315.2,261.9 L316.0,259.7 L316.8,260.6 L317.6,259.5 L318.4,260.1 L319.2,260.0 L320.0,260.4 L320.8,260.0 L321.6,260.5 L322.4,260.1 L323.2,260.6 L324.0,261.1 L324.8,260.9 L325.6,261.1 L326.4,261.2 L327.2,261.0 L328.0,261.6 L328.8,261.5 L329.6,262.1 L330.4,262.3 L331.2,262.1 L332.0,263.8 L332.8,263.0 L333.6,263.6 L334.4,263.3 L335.2,264.5 L336.0,263.7 L336.8,263.8 L337.6,264.9 L338.4,263.9 L339.2,264.0 L340.0,264.0 L340.8,264.0 L341.6,264.4 L342.4,264.1 L343.2,265.1 L344.0,263.2 L344.8,264.3 L345.6,265.4 L346.4,264.1 L347.2,264.7 L348.0,263.8 L348.8,264.6 L349.6,264.8 L350.4,266.4 L351.2,266.5 L352.0,265.8 L352.8,266.0 L353.6,267.2 L354.4,266.4 L355.2,267.6 L356.0,266.8 L356.8,268.1 L357.6,266.3 L358.4,267.9 L359.2,267.3 L360.0,266.9 L360.8,269.1 L361.6,268.3 L362.4,268.5 L363.2,268.6 L364.0,269.8 L364.8,268.5 L365.6,269.4 L366.4,269.0 L367.2,269.0 L368.0,270.0 L368.8,268.5 L369.6,268.8 L370.4,268.2 L371.2,269.4 L372.0,268.1 L372.8,267.3" fill="none" stroke="#c4002c" stroke-width="1.05"/>
<path d="M373.6,267.3 L374.4,267.9 L375.2,267.4 L376.0,265.9 L376.8,264.9 L377.6,265.1 L378.4,264.5 L379.2,263.5 L380.0,262.9 L380.8,262.3 L381.6,261.7 L382.4,260.2 L383.2,260.3 L384.0,260.2 L384.8,260.9 L385.6,259.2 L386.4,258.5 L387.2,259.0 L388.0,260.5 L388.8,260.7 L389.6,259.6 L390.4,261.4 L391.2,260.6 L392.0,260.6 L392.8,262.3 L393.6,263.1 L394.4,264.0 L395.2,265.3 L396.0,265.9 L396.8,265.8 L397.6,267.8 L398.4,269.2 L399.2,269.7 L400.0,269.6 L400.8,271.8 L401.6,272.2 L402.4,273.0 L403.2,274.7 L404.0,274.3 L404.8,274.8 L405.6,274.3 L406.4,276.7 L407.2,275.7 L408.0,276.4 L408.8,276.3 L409.6,277.3 L410.4,276.1 L411.2,278.2" fill="none" stroke="#109010" stroke-width="1.05"/>
<path d="M412.0,278.3 L412.8,277.4 L413.6,277.0 L414.4,276.5 L415.2,277.6 L416.0,277.7 L416.8,277.8 L417.6,277.9 L418.4,277.6 L419.2,279.1 L420.0,278.2 L420.8,278.4 L421.6,278.5 L422.4,278.6 L423.2,277.8 L424.0,278.9 L424.8,279.1 L425.6,279.2 L426.4,279.8 L427.2,279.9 L428.0,278.7 L428.8,279.8 L429.6,279.0 L430.4,280.5 L431.2,279.8 L432.0,279.4 L432.8,280.9 L433.6,280.6 L434.4,281.1 L435.2,280.8 L436.0,281.2 L436.8,281.9 L437.6,281.9 L438.4,280.0 L439.2,281.4 L440.0,281.0 L440.8,280.0 L441.6,282.0 L442.4,281.0 L443.2,281.5 L444.0,281.5 L444.8,281.1 L445.6,280.8 L446.4,281.2 L447.2,281.3 L448.0,280.4 L448.8,281.5 L449.6,282.5 L450.4,280.6 L451.2,282.7 L452.0,282.8 L452.8,282.9 L453.6,282.4 L454.4,281.8 L455.2,282.3 L456.0,282.0 L456.8,282.5 L457.6,283.1 L458.4,282.8 L459.2,282.9 L460.0,283.5 L460.8,283.2 L461.6,283.3 L462.4,284.5 L463.2,283.6 L464.0,283.8 L464.8,284.3 L465.6,283.0 L466.4,284.2 L467.2,283.9 L468.0,284.0 L468.8,284.6 L469.6,285.1 L470.4,283.8 L471.2,284.9 L472.0,285.0 L472.8,285.1 L473.6,285.2 L474.4,285.3 L475.2,285.8 L476.0,285.9 L476.8,285.6 L477.6,285.7 L478.4,286.7 L479.2,285.8 L480.0,284.8 L480.8,284.9 L481.6,285.5 L482.4,286.0 L483.2,285.0 L484.0,285.6 L484.8,286.4" fill="none" stroke="#c4002c" stroke-width="1.05"/>
<path d="M373.6,283.8 L374.4,282.5 L375.2,283.2 L376.0,282.8 L376.8,282.0 L377.6,282.4 L378.4,282.6 L379.2,281.1 L380.0,280.7 L380.8,279.8 L381.6,278.8 L382.4,280.4 L383.2,278.1 L384.0,278.8 L384.8,279.0 L385.6,278.5 L386.4,278.0 L387.2,279.4 L388.0,278.5 L388.8,278.8 L389.6,280.1 L390.4,279.1 L391.2,279.5 L392.0,280.4 L392.8,281.0 L393.6,282.7 L394.4,281.3 L395.2,283.0 L396.0,282.7 L396.8,284.4 L397.6,284.6 L398.4,286.7 L399.2,286.7 L400.0,286.4 L400.8,287.4 L401.6,288.8 L402.4,288.7 L403.2,289.7 L404.0,289.4 L404.8,289.3 L405.6,289.6 L406.4,289.8 L407.2,290.4 L408.0,291.1 L408.8,291.2 L409.6,289.3 L410.4,290.0 L411.2,290.1 L412,290.6 L373,285.7 Z" fill="url(#gp)"/>
<path d="M280.0,280.4 L280.8,280.4 L281.6,279.6 L282.4,279.6 L283.2,279.6 L284.0,280.0 L284.8,279.0 L285.6,281.0 L286.4,279.9 L287.2,279.9 L288.0,280.3 L288.8,278.9 L289.6,278.9 L290.4,279.4 L291.2,278.8 L292.0,279.4 L292.8,278.8 L293.6,279.7 L294.4,279.7 L295.2,280.7 L296.0,278.7 L296.8,279.6 L297.6,280.6 L298.4,279.6 L299.2,279.5 L300.0,279.1 L300.8,279.9 L301.6,279.0 L302.4,280.4 L303.2,279.0 L304.0,280.3 L304.8,279.7 L305.6,279.3 L306.4,279.3 L307.2,279.2 L308.0,279.2 L308.8,279.2 L309.6,278.2 L310.4,279.5 L311.2,279.1 L312.0,279.1 L312.8,279.5 L313.6,279.1 L314.4,280.0 L315.2,280.0 L316.0,278.6 L316.8,279.4 L317.6,279.0 L318.4,279.0 L319.2,278.0 L320.0,279.0 L320.8,279.0 L321.6,278.6 L322.4,279.1 L323.2,279.1 L324.0,279.6 L324.8,279.3 L325.6,278.4 L326.4,279.5 L327.2,279.6 L328.0,279.3 L328.8,279.8 L329.6,279.9 L330.4,281.1 L331.2,280.2 L332.0,281.3 L332.8,279.4 L333.6,280.5 L334.4,281.0 L335.2,280.3 L336.0,280.8 L336.8,281.9 L337.6,280.9 L338.4,281.0 L339.2,281.0 L340.0,280.6 L340.8,281.0 L341.6,281.0 L342.4,281.1 L343.2,281.1 L344.0,280.8 L344.8,281.3 L345.6,281.8 L346.4,281.1 L347.2,281.6 L348.0,282.2 L348.8,282.3 L349.6,283.1 L350.4,281.8 L351.2,282.4 L352.0,281.6 L352.8,283.2 L353.6,283.4 L354.4,282.8 L355.2,284.3 L356.0,282.5 L356.8,283.3 L357.6,283.5 L358.4,284.1 L359.2,284.3 L360.0,284.4 L360.8,285.0 L361.6,284.7 L362.4,284.9 L363.2,284.0 L364.0,286.1 L364.8,285.1 L365.6,285.2 L366.4,285.2 L367.2,284.2 L368.0,285.1 L368.8,285.4 L369.6,284.5 L370.4,284.4 L371.2,284.6 L372.0,284.3 L372.8,284.1" fill="none" stroke="#4a0000" stroke-width="1.05"/>
<path d="M373.6,283.8 L374.4,282.5 L375.2,283.2 L376.0,282.8 L376.8,282.0 L377.6,282.4 L378.4,282.6 L379.2,281.1 L380.0,280.7 L380.8,279.8 L381.6,278.8 L382.4,280.4 L383.2,278.1 L384.0,278.8 L384.8,279.0 L385.6,278.5 L386.4,278.0 L387.2,279.4 L388.0,278.5 L388.8,278.8 L389.6,280.1 L390.4,279.1 L391.2,279.5 L392.0,280.4 L392.8,281.0 L393.6,282.7 L394.4,281.3 L395.2,283.0 L396.0,282.7 L396.8,284.4 L397.6,284.6 L398.4,286.7 L399.2,286.7 L400.0,286.4 L400.8,287.4 L401.6,288.8 L402.4,288.7 L403.2,289.7 L404.0,289.4 L404.8,289.3 L405.6,289.6 L406.4,289.8 L407.2,290.4 L408.0,291.1 L408.8,291.2 L409.6,289.3 L410.4,290.0 L411.2,290.1" fill="none" stroke="#109010" stroke-width="1.05"/>
<path d="M412.0,290.5 L412.8,290.5 L413.6,289.6 L414.4,290.2 L415.2,290.7 L416.0,290.8 L416.8,289.8 L417.6,290.9 L418.4,291.0 L419.2,290.7 L420.0,291.2 L420.8,291.4 L421.6,291.1 L422.4,291.6 L423.2,291.4 L424.0,291.9 L424.8,292.1 L425.6,291.2 L426.4,292.8 L427.2,293.5 L428.0,291.7 L428.8,293.2 L429.6,293.4 L430.4,294.1 L431.2,292.8 L432.0,293.4 L432.8,293.5 L433.6,293.6 L434.4,292.7 L435.2,293.8 L436.0,293.8 L436.8,293.9 L437.6,293.9 L438.4,294.4 L439.2,294.0 L440.0,295.0 L440.8,294.0 L441.6,295.0 L442.4,294.0 L443.2,294.1 L444.0,294.1 L444.8,295.1 L445.6,295.2 L446.4,294.6 L447.2,294.3 L448.0,295.3 L448.8,294.4 L449.6,293.5 L450.4,294.6 L451.2,293.6 L452.0,294.7 L452.8,294.8 L453.6,294.9 L454.4,295.0 L455.2,295.1 L456.0,295.2 L456.8,294.3 L457.6,295.5 L458.4,294.6 L459.2,295.7 L460.0,296.2 L460.8,295.9 L461.6,296.1 L462.4,296.6 L463.2,296.3 L464.0,296.4 L464.8,296.6 L465.6,297.7 L466.4,297.8 L467.2,296.9 L468.0,297.0 L468.8,296.1 L469.6,296.8 L470.4,296.4 L471.2,298.5 L472.0,297.6 L472.8,297.2 L473.6,297.7 L474.4,298.8 L475.2,297.9 L476.0,297.0 L476.8,298.0 L477.6,298.5 L478.4,297.2 L479.2,298.2 L480.0,297.9 L480.8,298.3 L481.6,298.3 L482.4,298.8 L483.2,298.4 L484.0,298.0 L484.8,297.4" fill="none" stroke="#4a0000" stroke-width="1.05"/>
<path d="M373.6,303.7 L374.4,304.4 L375.2,304.1 L376.0,303.4 L376.8,303.5 L377.6,302.8 L378.4,303.3 L379.2,302.1 L380.0,302.2 L380.8,301.5 L381.6,301.9 L382.4,301.6 L383.2,300.0 L384.0,300.7 L384.8,299.6 L385.6,300.5 L386.4,300.4 L387.2,299.5 L388.0,300.6 L388.8,299.8 L389.6,300.1 L390.4,301.5 L391.2,302.0 L392.0,302.5 L392.8,303.1 L393.6,303.8 L394.4,304.5 L395.2,306.2 L396.0,305.9 L396.8,305.6 L397.6,307.0 L398.4,308.1 L399.2,309.8 L400.0,309.0 L400.8,309.7 L401.6,310.2 L402.4,311.2 L403.2,312.1 L404.0,312.1 L404.8,311.5 L405.6,312.5 L406.4,314.2 L407.2,313.0 L408.0,312.6 L408.8,313.8 L409.6,314.0 L410.4,315.1 L411.2,314.2 L412.0,314.3 L412.8,313.3 L413,314.4 L373,306.0 Z" fill="url(#gp)"/>
<path d="M280.0,292.8 L280.8,293.4 L281.6,292.8 L282.4,292.4 L283.2,293.4 L284.0,292.3 L284.8,292.3 L285.6,292.3 L286.4,293.3 L287.2,291.8 L288.0,291.8 L288.8,292.5 L289.6,292.5 L290.4,292.0 L291.2,292.0 L292.0,290.9 L292.8,290.8 L293.6,290.8 L294.4,291.7 L295.2,292.6 L296.0,291.2 L296.8,290.5 L297.6,291.4 L298.4,291.4 L299.2,291.3 L300.0,290.2 L300.8,291.1 L301.6,290.6 L302.4,291.4 L303.2,290.9 L304.0,289.8 L304.8,290.8 L305.6,290.3 L306.4,289.6 L307.2,290.6 L308.0,290.5 L308.8,291.4 L309.6,290.4 L310.4,290.3 L311.2,289.9 L312.0,290.2 L312.8,290.6 L313.6,290.1 L314.4,289.7 L315.2,289.1 L316.0,290.1 L316.8,289.0 L317.6,290.0 L318.4,290.0 L319.2,290.0 L320.0,290.0 L320.8,290.0 L321.6,289.6 L322.4,291.0 L323.2,291.1 L324.0,290.1 L324.8,289.8 L325.6,289.9 L326.4,290.3 L327.2,291.4 L328.0,290.9 L328.8,289.6 L329.6,290.3 L330.4,290.7 L331.2,291.8 L332.0,291.9 L332.8,291.0 L333.6,291.1 L334.4,290.1 L335.2,290.8 L336.0,291.7 L336.8,291.7 L337.6,291.4 L338.4,291.0 L339.2,291.4 L340.0,291.8 L340.8,291.0 L341.6,291.1 L342.4,290.6 L343.2,292.2 L344.0,291.0 L344.8,292.3 L345.6,293.0 L346.4,293.9 L347.2,293.3 L348.0,293.7 L348.8,295.1 L349.6,294.5 L350.4,295.3 L351.2,294.9 L352.0,295.7 L352.8,296.5 L353.6,297.5 L354.4,296.8 L355.2,297.1 L356.0,296.4 L356.8,297.2 L357.6,297.4 L358.4,298.9 L359.2,298.0 L360.0,297.0 L360.8,298.5 L361.6,298.7 L362.4,298.2 L363.2,299.1 L364.0,299.3 L364.8,300.7 L365.6,300.6 L366.4,301.7 L367.2,302.9 L368.0,303.1 L368.8,304.7 L369.6,304.3 L370.4,304.7 L371.2,305.9 L372.0,305.4 L372.8,304.9" fill="none" stroke="#801a70" stroke-width="1.05"/>
<path d="M373.6,303.7 L374.4,304.4 L375.2,304.1 L376.0,303.4 L376.8,303.5 L377.6,302.8 L378.4,303.3 L379.2,302.1 L380.0,302.2 L380.8,301.5 L381.6,301.9 L382.4,301.6 L383.2,300.0 L384.0,300.7 L384.8,299.6 L385.6,300.5 L386.4,300.4 L387.2,299.5 L388.0,300.6 L388.8,299.8 L389.6,300.1 L390.4,301.5 L391.2,302.0 L392.0,302.5 L392.8,303.1 L393.6,303.8 L394.4,304.5 L395.2,306.2 L396.0,305.9 L396.8,305.6 L397.6,307.0 L398.4,308.1 L399.2,309.8 L400.0,309.0 L400.8,309.7 L401.6,310.2 L402.4,311.2 L403.2,312.1 L404.0,312.1 L404.8,311.5 L405.6,312.5 L406.4,314.2 L407.2,313.0 L408.0,312.6 L408.8,313.8 L409.6,314.0 L410.4,315.1 L411.2,314.2 L412.0,314.3 L412.8,313.3" fill="none" stroke="#109010" stroke-width="1.05"/>
<path d="M413.6,314.3 L414.4,313.4 L415.2,314.0 L416.0,313.4 L416.8,314.4 L417.6,315.5 L418.4,314.9 L419.2,314.5 L420.0,314.6 L420.8,315.0 L421.6,314.6 L422.4,315.7 L423.2,313.7 L424.0,314.8 L424.8,314.9 L425.6,314.9 L426.4,316.0 L427.2,316.1 L428.0,315.5 L428.8,315.6 L429.6,315.3 L430.4,315.8 L431.2,315.5 L432.0,315.2 L432.8,315.7 L433.6,316.8 L434.4,316.9 L435.2,315.6 L436.0,315.1 L436.8,316.2 L437.6,316.3 L438.4,316.0 L439.2,316.9 L440.0,316.6 L440.8,316.7 L441.6,317.9 L442.4,317.0 L443.2,318.1 L444.0,317.6 L444.8,318.3 L445.6,317.9 L446.4,317.2 L447.2,317.7 L448.0,317.8 L448.8,318.0 L449.6,317.7 L450.4,319.2 L451.2,318.3 L452.0,318.5 L452.8,318.6 L453.6,318.7 L454.4,317.8 L455.2,318.6 L456.0,319.1 L456.8,319.6 L457.6,318.3 L458.4,319.4 L459.2,319.5 L460.0,320.7 L460.8,319.4 L461.6,319.9 L462.4,319.6 L463.2,320.1 L464.0,319.2 L464.8,320.3 L465.6,320.4 L466.4,321.5 L467.2,320.6 L468.0,320.7 L468.8,320.7 L469.6,321.2 L470.4,320.9 L471.2,322.0 L472.0,322.0 L472.8,320.1 L473.6,320.2 L474.4,320.2 L475.2,320.9 L476.0,321.3 L476.8,321.8 L477.6,321.4 L478.4,321.5 L479.2,322.5 L480.0,321.9 L480.8,321.1 L481.6,321.6 L482.4,321.2 L483.2,320.6 L484.0,321.6 L484.8,321.6" fill="none" stroke="#801a70" stroke-width="1.05"/>
<path d="M280.0,306.4 L280.8,307.9 L281.6,307.6 L282.4,308.9 L283.2,308.3 L284.0,309.0 L284.8,309.0 L285.6,310.2 L286.4,309.4 L287.2,310.4 L288.0,309.4 L288.8,309.4 L289.6,308.4 L290.4,309.7 L291.2,310.3 L292.0,309.3 L292.8,308.8 L293.6,309.2 L294.4,309.2 L295.2,308.7 L296.0,308.7 L296.8,309.1 L297.6,309.4 L298.4,309.4 L299.2,310.0 L300.0,309.0 L300.8,310.0 L301.6,308.9 L302.4,307.9 L303.2,308.8 L304.0,308.6 L304.8,308.5 L305.6,308.3 L306.4,308.5 L307.2,307.5 L308.0,308.0 L308.8,306.4 L309.6,306.7 L310.4,306.9 L311.2,307.6 L312.0,307.4 L312.8,306.1 L313.6,305.5 L314.4,305.3 L315.2,305.9 L316.0,305.4 L316.8,305.2 L317.6,305.5 L318.4,304.1 L319.2,304.0 L320.0,304.6 L320.8,305.0 L321.6,305.0 L322.4,304.6 L323.2,304.0 L324.0,305.1 L324.8,305.1 L325.6,305.1 L326.4,305.2 L327.2,305.2 L328.0,304.2 L328.8,304.3 L329.6,305.7 L330.4,305.8 L331.2,306.4 L332.0,305.9 L332.8,305.5 L333.6,305.2 L334.4,305.6 L335.2,305.7 L336.0,304.7 L336.8,305.8 L337.6,306.8 L338.4,305.4 L339.2,305.9 L340.0,305.9 L340.8,304.9 L341.6,305.6 L342.4,306.0 L343.2,306.0 L344.0,306.0 L344.8,306.0 L345.6,305.6 L346.4,305.0 L347.2,305.7 L348.0,306.1 L348.8,306.2 L349.6,306.7 L350.4,305.4 L351.2,306.9 L352.0,306.6 L352.8,306.8 L353.6,307.3 L354.4,308.1 L355.2,307.2 L356.0,307.0 L356.8,307.6 L357.6,308.7 L358.4,307.9 L359.2,309.0 L360.0,307.8 L360.8,308.3 L361.6,308.5 L362.4,309.6 L363.2,307.7 L364.0,308.4 L364.8,308.9 L365.6,308.9 L366.4,308.6 L367.2,308.6 L368.0,310.0 L368.8,309.1 L369.6,310.4 L370.4,309.4 L371.2,310.4 L372.0,310.7 L372.8,311.9 L373.6,312.5 L374.4,313.9 L375.2,314.9 L376.0,317.0 L376.8,317.0 L377.6,318.0 L378.4,318.9 L379.2,319.7 L380.0,320.8 L380.8,321.3 L381.6,320.9 L382.4,322.6 L383.2,321.6 L384.0,321.2 L384.8,321.6 L385.6,321.7 L386.4,321.7 L387.2,320.8 L388.0,320.9 L388.8,322.4 L389.6,322.1 L390.4,322.2 L391.2,322.3 L392.0,322.4 L392.8,321.6 L393.6,322.7 L394.4,322.5 L395.2,323.5 L396.0,323.2 L396.8,323.4 L397.6,323.6 L398.4,323.8 L399.2,324.4 L400.0,324.6 L400.8,324.0 L401.6,324.6 L402.4,323.8 L403.2,325.0 L404.0,324.2 L404.8,325.0 L405.6,326.0 L406.4,326.8 L407.2,326.0 L408.0,325.8 L408.8,327.3 L409.6,326.1 L410.4,327.1 L411.2,327.8 L412.0,325.9 L412.8,326.1 L413.6,327.2 L414.4,328.3 L415.2,327.4 L416.0,327.4 L416.8,326.5 L417.6,328.5 L418.4,327.6 L419.2,327.6 L420.0,327.6 L420.8,328.6 L421.6,327.6 L422.4,328.0 L423.2,326.6 L424.0,327.7 L424.8,327.7 L425.6,327.7 L426.4,327.4 L427.2,327.8 L428.0,326.9 L428.8,327.5 L429.6,327.6 L430.4,328.1 L431.2,328.1 L432.0,327.8 L432.8,327.3 L433.6,328.0 L434.4,328.5 L435.2,328.6 L436.0,328.7 L436.8,328.8 L437.6,328.9 L438.4,329.4 L439.2,328.7 L440.0,329.2 L440.8,329.7 L441.6,329.4 L442.4,329.6 L443.2,329.7 L444.0,330.2 L444.8,330.0 L445.6,330.5 L446.4,330.2 L447.2,330.0 L448.0,330.1 L448.8,331.6 L449.6,330.8 L450.4,330.9 L451.2,331.5 L452.0,331.2 L452.8,331.4 L453.6,331.1 L454.4,331.6 L455.2,331.8 L456.0,332.9 L456.8,332.1 L457.6,331.8 L458.4,331.3 L459.2,332.5 L460.0,332.6 L460.8,332.7 L461.6,332.9 L462.4,332.6 L463.2,332.7 L464.0,332.3 L464.8,334.4 L465.6,332.5 L466.4,334.0 L467.2,334.1 L468.0,333.8 L468.8,333.9 L469.6,333.0 L470.4,335.1 L471.2,335.2 L472.0,334.7 L472.8,334.4 L473.6,334.9 L474.4,334.9 L475.2,333.6 L476.0,335.7 L476.8,334.3 L477.6,334.8 L478.4,335.2 L479.2,334.9 L480.0,335.3 L480.8,333.9 L481.6,336.0 L482.4,336.0 L483.2,335.0 L484.0,334.6 L484.8,336.0" fill="none" stroke="#0000d2" stroke-width="1.05"/>
<path d="M280.0,320.4 L280.8,320.1 L281.6,319.2 L282.4,321.5 L283.2,320.9 L284.0,320.2 L284.8,321.6 L285.6,321.8 L286.4,321.0 L287.2,322.0 L288.0,322.0 L288.8,321.9 L289.6,321.8 L290.4,321.7 L291.2,322.0 L292.0,321.5 L292.8,320.9 L293.6,320.8 L294.4,321.0 L295.2,320.5 L296.0,320.7 L296.8,321.6 L297.6,320.1 L298.4,320.5 L299.2,320.8 L300.0,320.8 L300.8,320.0 L301.6,320.3 L302.4,319.2 L303.2,320.4 L304.0,319.8 L304.8,319.6 L305.6,320.3 L306.4,318.6 L307.2,318.7 L308.0,318.4 L308.8,318.1 L309.6,318.2 L310.4,318.4 L311.2,317.1 L312.0,316.9 L312.8,317.0 L313.6,315.4 L314.4,316.2 L315.2,315.1 L316.0,316.0 L316.8,315.0 L317.6,316.0 L318.4,316.0 L319.2,315.0 L320.0,316.0 L320.8,316.1 L321.6,317.1 L322.4,316.1 L323.2,316.2 L324.0,316.2 L324.8,316.7 L325.6,316.3 L326.4,316.4 L327.2,315.4 L328.0,315.5 L328.8,315.5 L329.6,316.6 L330.4,316.7 L331.2,316.7 L332.0,316.8 L332.8,316.8 L333.6,316.9 L334.4,318.0 L335.2,317.4 L336.0,316.7 L336.8,317.5 L337.6,317.2 L338.4,317.2 L339.2,317.3 L340.0,317.3 L340.8,317.3 L341.6,316.3 L342.4,317.4 L343.2,317.8 L344.0,317.0 L344.8,318.4 L345.6,316.4 L346.4,317.9 L347.2,316.7 L348.0,317.9 L348.8,318.2 L349.6,318.5 L350.4,318.9 L351.2,319.2 L352.0,318.5 L352.8,319.7 L353.6,318.9 L354.4,321.0 L355.2,320.0 L356.0,320.0 L356.8,320.0 L357.6,320.0 L358.4,319.0 L359.2,321.0 L360.0,319.6 L360.8,320.4 L361.6,320.0 L362.4,320.0 L363.2,320.0 L364.0,320.0 L364.8,320.0 L365.6,320.0 L366.4,319.0 L367.2,319.6 L368.0,320.0 L368.8,319.7 L369.6,320.5 L370.4,320.7 L371.2,321.9 L372.0,323.3 L372.8,323.7 L373.6,325.0 L374.4,326.8 L375.2,327.2 L376.0,329.7 L376.8,331.2 L377.6,331.5 L378.4,333.4 L379.2,335.0 L380.0,335.9 L380.8,337.7 L381.6,337.6 L382.4,338.5 L383.2,337.6 L384.0,336.6 L384.8,337.6 L385.6,338.7 L386.4,337.7 L387.2,338.8 L388.0,338.3 L388.8,339.0 L389.6,338.1 L390.4,338.2 L391.2,338.3 L392.0,337.4 L392.8,337.6 L393.6,338.7 L394.4,339.9 L395.2,339.5 L396.0,338.8 L396.8,339.8 L397.6,339.6 L398.4,340.2 L399.2,339.6 L400.0,339.8 L400.8,341.4 L401.6,340.2 L402.4,340.4 L403.2,341.0 L404.0,341.2 L404.8,341.8 L405.6,341.6 L406.4,342.8 L407.2,342.0 L408.0,342.2 L408.8,342.3 L409.6,342.5 L410.4,342.7 L411.2,342.8 L412.0,343.3 L412.8,343.5 L413.6,343.2 L414.4,343.3 L415.2,343.0 L416.0,343.8 L416.8,343.1 L417.6,343.5 L418.4,343.6 L419.2,344.0 L420.0,343.2 L420.8,343.6 L421.6,344.0 L422.4,343.2 L423.2,342.6 L424.0,342.7 L424.8,344.7 L425.6,342.7 L426.4,344.2 L427.2,343.8 L428.0,342.9 L428.8,344.9 L429.6,344.0 L430.4,344.1 L431.2,345.1 L432.0,344.6 L432.8,344.3 L433.6,343.4 L434.4,344.1 L435.2,344.6 L436.0,345.7 L436.8,344.8 L437.6,345.9 L438.4,345.0 L439.2,344.1 L440.0,345.2 L440.8,345.3 L441.6,345.4 L442.4,345.6 L443.2,346.1 L444.0,346.8 L444.8,346.4 L445.6,346.1 L446.4,346.2 L447.2,346.8 L448.0,346.9 L448.8,346.6 L449.6,346.8 L450.4,347.3 L451.2,347.5 L452.0,347.2 L452.8,347.0 L453.6,347.5 L454.4,348.6 L455.2,348.8 L456.0,347.5 L456.8,349.1 L457.6,348.2 L458.4,349.3 L459.2,348.1 L460.0,348.6 L460.8,348.7 L461.6,349.3 L462.4,349.4 L463.2,348.7 L464.0,349.3 L464.8,349.8 L465.6,350.5 L466.4,349.6 L467.2,350.7 L468.0,349.4 L468.8,349.5 L469.6,349.6 L470.4,350.1 L471.2,350.2 L472.0,350.7 L472.8,350.4 L473.6,350.1 L474.4,350.9 L475.2,350.2 L476.0,349.7 L476.8,350.7 L477.6,350.8 L478.4,351.2 L479.2,351.9 L480.0,350.5 L480.8,350.9 L481.6,351.4 L482.4,351.0 L483.2,351.0 L484.0,351.0 L484.8,351.4" fill="none" stroke="#0000d2" stroke-width="1.05"/>
<path d="M280.0,337.4 L280.8,337.0 L281.6,337.0 L282.4,337.4 L283.2,336.6 L284.0,336.0 L284.8,336.5 L285.6,337.3 L286.4,335.9 L287.2,337.9 L288.0,335.9 L288.8,336.4 L289.6,336.8 L290.4,336.8 L291.2,337.2 L292.0,336.7 L292.8,337.7 L293.6,335.7 L294.4,336.7 L295.2,336.7 L296.0,335.6 L296.8,337.6 L297.6,336.6 L298.4,337.6 L299.2,336.6 L300.0,336.2 L300.8,336.6 L301.6,335.4 L302.4,336.2 L303.2,335.9 L304.0,336.6 L304.8,336.2 L305.6,335.7 L306.4,334.6 L307.2,333.6 L308.0,332.6 L308.8,332.5 L309.6,332.3 L310.4,331.3 L311.2,330.7 L312.0,331.1 L312.8,329.3 L313.6,329.2 L314.4,328.8 L315.2,328.9 L316.0,328.7 L316.8,327.7 L317.6,328.0 L318.4,328.0 L319.2,329.1 L320.0,329.2 L320.8,328.1 L321.6,328.7 L322.4,328.7 L323.2,330.4 L324.0,328.8 L324.8,330.2 L325.6,330.5 L326.4,330.9 L327.2,331.1 L328.0,330.4 L328.8,331.1 L329.6,331.6 L330.4,330.6 L331.2,331.6 L332.0,331.7 L332.8,331.8 L333.6,331.5 L334.4,332.1 L335.2,332.7 L336.0,332.5 L336.8,332.7 L337.6,333.0 L338.4,332.9 L339.2,332.5 L340.0,333.8 L340.8,333.7 L341.6,334.3 L342.4,334.6 L343.2,334.9 L344.0,335.1 L344.8,334.3 L345.6,335.1 L346.4,334.7 L347.2,334.8 L348.0,336.9 L348.8,336.0 L349.6,336.4 L350.4,335.0 L351.2,334.9 L352.0,335.3 L352.8,335.4 L353.6,335.0 L354.4,334.1 L355.2,335.0 L356.0,333.1 L356.8,334.0 L357.6,332.5 L358.4,332.0 L359.2,330.6 L360.0,331.3 L360.8,331.1 L361.6,332.0 L362.4,331.0 L363.2,331.2 L364.0,331.5 L364.8,331.0 L365.6,332.3 L366.4,333.5 L367.2,334.5 L368.0,335.9 L368.8,337.7 L369.6,338.0 L370.4,339.3 L371.2,340.7 L372.0,341.7 L372.8,343.5 L373.6,346.0 L374.4,346.0 L375.2,348.7 L376.0,349.0 L376.8,350.2 L377.6,352.3 L378.4,352.7 L379.2,352.1 L380.0,353.4 L380.8,355.4 L381.6,353.7 L382.4,354.6 L383.2,355.0 L384.0,354.0 L384.8,355.4 L385.6,354.1 L386.4,355.1 L387.2,355.2 L388.0,354.2 L388.8,356.3 L389.6,355.4 L390.4,355.5 L391.2,354.6 L392.0,355.8 L392.8,355.9 L393.6,355.0 L394.4,355.8 L395.2,355.3 L396.0,356.5 L396.8,355.7 L397.6,357.8 L398.4,357.0 L399.2,357.2 L400.0,358.4 L400.8,357.1 L401.6,358.7 L402.4,358.3 L403.2,358.1 L404.0,358.3 L404.8,358.4 L405.6,359.6 L406.4,358.8 L407.2,360.0 L408.0,359.5 L408.8,360.3 L409.6,360.4 L410.4,360.6 L411.2,358.7 L412.0,359.8 L412.8,359.9 L413.6,361.0 L414.4,360.5 L415.2,360.2 L416.0,360.2 L416.8,360.3 L417.6,359.3 L418.4,359.4 L419.2,360.4 L420.0,360.0 L420.8,360.0 L421.6,360.4 L422.4,360.4 L423.2,360.8 L424.0,360.5 L424.8,360.5 L425.6,360.9 L426.4,360.6 L427.2,361.6 L428.0,360.7 L428.8,361.1 L429.6,361.2 L430.4,360.9 L431.2,360.9 L432.0,361.0 L432.8,361.1 L433.6,360.2 L434.4,361.7 L435.2,361.4 L436.0,361.5 L436.8,360.6 L437.6,361.7 L438.4,361.8 L439.2,361.5 L440.0,362.4 L440.8,361.8 L441.6,361.9 L442.4,361.4 L443.2,362.9 L444.0,362.3 L444.8,362.8 L445.6,363.0 L446.4,363.5 L447.2,362.8 L448.0,363.0 L448.8,363.5 L449.6,362.7 L450.4,363.4 L451.2,363.6 L452.0,364.1 L452.8,364.3 L453.6,364.0 L454.4,364.5 L455.2,363.7 L456.0,363.8 L456.8,365.0 L457.6,365.1 L458.4,364.3 L459.2,365.4 L460.0,364.5 L460.8,365.7 L461.6,365.8 L462.4,366.9 L463.2,367.1 L464.0,365.8 L464.8,365.3 L465.6,366.0 L466.4,366.6 L467.2,365.7 L468.0,367.8 L468.8,366.9 L469.6,366.0 L470.4,367.1 L471.2,367.2 L472.0,367.3 L472.8,367.4 L473.6,367.0 L474.4,367.5 L475.2,367.6 L476.0,368.6 L476.8,368.1 L477.6,367.4 L478.4,368.8 L479.2,367.9 L480.0,366.9 L480.8,368.3 L481.6,367.9 L482.4,368.0 L483.2,367.6 L484.0,369.0 L484.8,368.0" fill="none" stroke="#0000d2" stroke-width="1.05"/>
<g fill="none" stroke="#111" stroke-width="1"><path d="M421.3,167.9 V171.8 Q421.8,173.7 424,173.7 H426 Q428.1,173.7 428.6,171.8 V167.9"/><path d="M420,175.5 H430"/><path d="M436.9,175.5 H440"/><path d="M442.4,172.8 V168.4 H448.9"/><path d="M451.3,168.6 L455.8,172.6 M455.8,168.6 L451.3,172.6"/><path d="M458.5,168.4 V171.6 Q458.8,172.7 460.5,172.7 H461.6 Q463.6,172.7 463.6,171.2 V168.4"/><path d="M471.6,164 L469.3,172.7"/><path d="M477.5,164 V172.9 H482.7"/><path d="M476,175.3 H483.1"/></g>
<text x="431.4" y="178.7" font-family="Liberation Sans, sans-serif" font-size="10.5" fill="#111">2</text>
<linearGradient id="ni" x1="0.1" y1="0.1" x2="0.9" y2="0.9"><stop offset="0" stop-color="#acd0f6"/><stop offset="0.5" stop-color="#cfe5fa"/><stop offset="1" stop-color="#eef6fe"/></linearGradient>
<radialGradient id="ni2" cx="0.42" cy="0.38" r="0.62"><stop offset="0" stop-color="#9cb4de"/><stop offset="0.65" stop-color="#aac4e8"/><stop offset="1" stop-color="#bcd4f2"/></radialGradient>
<radialGradient id="ox" cx="0.4" cy="0.35" r="0.65"><stop offset="0" stop-color="#c83a24"/><stop offset="0.75" stop-color="#b84432"/><stop offset="1" stop-color="#9a6a50"/></radialGradient>
<circle cx="350.6" cy="93" r="12.5" fill="url(#ni)" stroke="#a4c6ea" stroke-width="0.6"/>
<circle cx="374.8" cy="93" r="12.5" fill="url(#ni)" stroke="#a4c6ea" stroke-width="0.6"/>
<circle cx="399.0" cy="93" r="12.5" fill="url(#ni)" stroke="#a4c6ea" stroke-width="0.6"/>
<circle cx="423.2" cy="93" r="12.5" fill="url(#ni)" stroke="#a4c6ea" stroke-width="0.6"/>
<circle cx="447.4" cy="93" r="12.5" fill="url(#ni)" stroke="#a4c6ea" stroke-width="0.6"/>
<circle cx="338.5" cy="111.8" r="12.5" fill="url(#ni)" stroke="#a4c6ea" stroke-width="0.6"/>
<circle cx="362.7" cy="111.8" r="12.5" fill="url(#ni)" stroke="#a4c6ea" stroke-width="0.6"/>
<circle cx="386.9" cy="111.8" r="12.5" fill="url(#ni)" stroke="#a4c6ea" stroke-width="0.6"/>
<circle cx="411.1" cy="111.8" r="12.5" fill="url(#ni)" stroke="#a4c6ea" stroke-width="0.6"/>
<circle cx="435.3" cy="111.8" r="12.5" fill="url(#ni)" stroke="#a4c6ea" stroke-width="0.6"/>
<circle cx="324.0" cy="130.8" r="12.5" fill="url(#ni)" stroke="#a4c6ea" stroke-width="0.6"/>
<circle cx="348.2" cy="130.8" r="12.5" fill="url(#ni)" stroke="#a4c6ea" stroke-width="0.6"/>
<circle cx="372.4" cy="130.8" r="12.5" fill="url(#ni)" stroke="#a4c6ea" stroke-width="0.6"/>
<circle cx="396.6" cy="130.8" r="12.5" fill="url(#ni)" stroke="#a4c6ea" stroke-width="0.6"/>
<circle cx="420.8" cy="130.8" r="12.5" fill="url(#ni)" stroke="#a4c6ea" stroke-width="0.6"/>
<circle cx="310.6" cy="150" r="12.5" fill="url(#ni)" stroke="#a4c6ea" stroke-width="0.6"/>
<circle cx="334.8" cy="150" r="12.5" fill="url(#ni)" stroke="#a4c6ea" stroke-width="0.6"/>
<circle cx="359.0" cy="150" r="12.5" fill="url(#ni)" stroke="#a4c6ea" stroke-width="0.6"/>
<circle cx="383.2" cy="150" r="12.5" fill="url(#ni)" stroke="#a4c6ea" stroke-width="0.6"/>
<circle cx="407.4" cy="150" r="12.5" fill="url(#ni)" stroke="#a4c6ea" stroke-width="0.6"/>
<circle cx="436.3" cy="86.5" r="8" fill="url(#ox)"/>
<circle cx="428" cy="93.5" r="12" fill="url(#ni2)"/>
<circle cx="351.9" cy="105" r="8" fill="url(#ox)"/>
<circle cx="424.7" cy="105.6" r="8" fill="url(#ox)"/>
<circle cx="417" cy="111" r="12" fill="url(#ni2)"/>
<circle cx="341.7" cy="111.5" r="12" fill="url(#ni2)"/>
<circle cx="338" cy="123" r="8" fill="url(#ox)"/>
<circle cx="329" cy="131.5" r="12" fill="url(#ni2)"/>
<circle cx="324.2" cy="142.5" r="8" fill="url(#ox)"/>
<circle cx="390.4" cy="132.5" r="7" fill="#e8f0f6" stroke="#9a8a70" stroke-width="0.8" stroke-dasharray="1.2,1.2"/>
<text x="390.6" y="136.3" font-family="Liberation Sans, sans-serif" font-size="10.5" text-anchor="middle" fill="#0a5a2a">N</text>
<circle cx="387.5" cy="121.7" r="3.3" fill="#d8c8b8" stroke="#6a3a10" stroke-width="1.6"/>
<circle cx="382" cy="128.75" r="3.3" fill="#d8c8b8" stroke="#6a3a10" stroke-width="1.6"/>
<circle cx="399.6" cy="126.25" r="3.3" fill="#d8c8b8" stroke="#6a3a10" stroke-width="1.6"/>
<circle cx="411.7" cy="125" r="6.2" fill="#fff" stroke="#c82010" stroke-width="2.4"/>
<ellipse cx="411.5" cy="125.2" rx="2.6" ry="3.3" fill="none" stroke="#5a2a10" stroke-width="1.1"/>
<line x1="370" y1="163" x2="385.8" y2="243" stroke="#6a5010" stroke-width="1.1"/>
<path d="M384,241 L387.5,240.5 L386.2,246.5 Z" fill="#802010"/>

</svg>
</body></html>
